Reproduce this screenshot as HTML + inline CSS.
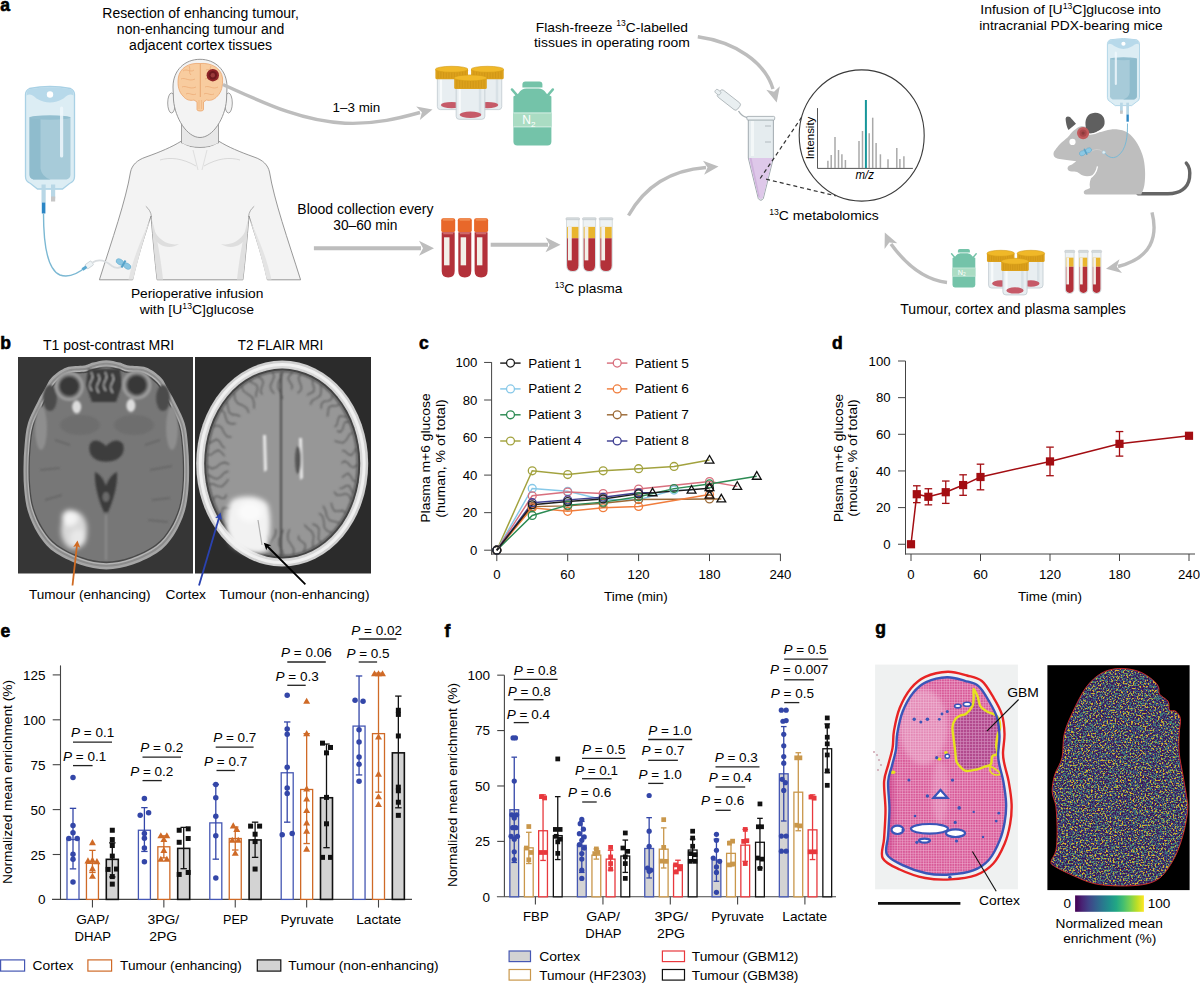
<!DOCTYPE html>
<html><head><meta charset="utf-8"><title>Figure</title>
<style>
html,body{margin:0;padding:0;background:#fff;}
body{width:1200px;height:983px;overflow:hidden;}
svg{display:block;font-family:"Liberation Sans", sans-serif;}
</style></head><body>
<svg width="1200" height="983" viewBox="0 0 1200 983">
<rect width="1200" height="983" fill="#ffffff"/>
<text x="0.30" y="10.80" font-size="17.5" font-weight="bold" fill="#000" stroke="#000" stroke-width="0.6">a</text>
<text x="200.60" y="17.60" font-size="14" text-anchor="middle" textLength="196.50" lengthAdjust="spacingAndGlyphs">Resection of enhancing tumour,</text>
<text x="200.60" y="33.60" font-size="14" text-anchor="middle" textLength="167.50" lengthAdjust="spacingAndGlyphs">non-enhancing tumour and</text>
<text x="200.60" y="49.60" font-size="14" text-anchor="middle" textLength="143.00" lengthAdjust="spacingAndGlyphs">adjacent cortex tissues</text>
<path d="M29.5,88.5 Q50.0,84.5 70.5,88.5 Q74.5,90.5 74.5,94.5 L74.5,176.5 Q74.5,181.5 69.5,183.5 L62.5,189.0 L37.5,189.0 L30.5,183.5 Q25.5,181.5 25.5,176.5 L25.5,94.5 Q25.5,90.5 29.5,88.5 Z" fill="#dcedf4" stroke="#a9d1e5" stroke-width="1.3"/>
<path d="M26.5,94.5 Q26.5,89.5 30.5,89.0 Q50.0,85.3 69.5,89.0 Q73.5,89.5 73.5,94.5 L73.5,95.5 Q69.5,92.5 63.5,98.5 Q50.0,106.5 36.5,98.5 Q30.5,92.5 26.5,95.5 Z" fill="#b7d9ea"/>
<circle cx="50.00" cy="94.50" r="3.20" fill="#ffffff"/>
<path d="M29.5,117.5 Q50.0,114.5 70.5,117.5 L70.5,174.5 Q70.5,178.5 66.5,179.5 L33.5,179.5 Q29.5,178.5 29.5,174.5 Z" fill="#a7cbd9"/>
<path d="M29.5,117.5 Q34.5,116.5 40.5,116.0 L40.5,168.5 Q41.5,176.5 50.5,179.5 L33.5,179.5 Q29.5,178.5 29.5,174.5 Z" fill="#8fbccd"/>
<ellipse cx="50.00" cy="117.50" rx="20.50" ry="2.20" fill="#93bfd0"/>
<rect x="60.00" y="106.50" width="3.20" height="51.00" fill="#eef7fb" rx="1.6" opacity="0.85"/>
<rect x="41.50" y="184.50" width="4.20" height="18.00" fill="#b8d7e6"/>
<rect x="51.00" y="184.50" width="4.20" height="14.00" fill="#b8d7e6"/>
<rect x="51.00" y="196.50" width="4.20" height="5.00" fill="#c6c6c6"/>
<rect x="41.80" y="202.50" width="3.60" height="11.00" fill="#2b86c5"/>
<path d="M43.5,213.5 C43.5,245 48,270 60,275 C70,278.5 80,272 86.5,266.5" fill="none" stroke="#7bb8d3" stroke-width="1.4"/>
<g transform="rotate(-35 89 265)">
<rect x="85.50" y="262.50" width="7.50" height="5.00" fill="#eef3f5" stroke="#b9c3c8" stroke-width="0.6" rx="1"/>
<rect x="81.00" y="263.50" width="5.00" height="3.00" fill="#5aa8d0"/>
</g>
<path d="M181.5,141 C172,147 160,152 146,157 C137,160 132,165 130.5,172 C126,200 112,240 99.4,279.8 L132.6,279.8 C138,255 146,232 151,216 C153,240 155,262 157.1,279.8 L242.9,279.8 C245,262 247,240 249,216 C254,232 262,255 267.4,279.8 L300.6,279.8 C288,240 274,200 269.5,172 C268,165 263,160 254,157 C240,152 228,147 218.5,141 Z" fill="#f3f3f3" stroke="#8c8c8c" stroke-width="0.9"/>
<path d="M151.5,218 C153,240 155,262 157.1,279.5 L163,279.5 C161,262 158,240 151.5,218 Z" fill="#e0e0e0"/>
<path d="M248.5,218 C247,240 245,262 242.9,279.5 L237,279.5 C239,262 242,240 248.5,218 Z" fill="#e0e0e0"/>
<path d="M150.5,219 C146,232 139,255 133.2,279.5 L128.5,279.5 C134,255 143,235 150.5,219 Z" fill="#e4e4e4"/>
<path d="M249.5,219 C254,232 261,255 266.8,279.5 L271.5,279.5 C266,255 257,235 249.5,219 Z" fill="#e4e4e4"/>
<path d="M145.8,206.3 C149,209 151,212 151.5,217" fill="none" stroke="#9a9a9a" stroke-width="0.8"/>
<path d="M254.2,206.3 C251,209 249,212 248.5,217" fill="none" stroke="#9a9a9a" stroke-width="0.8"/>
<path d="M181.5,120 L181.5,143 C190,149 210,149 218.5,143 L218.5,120 Z" fill="#e8e8e8" stroke="#8c8c8c" stroke-width="0.8"/>
<path d="M182,143 C192,150 208,150 218,143 C214,156 186,156 182,143 Z" fill="#f3f3f3"/>
<path d="M160,160 C170,157 182,158 196,166" fill="none" stroke="#d0d0d0" stroke-width="0.8"/>
<path d="M240,160 C230,157 218,158 204,166" fill="none" stroke="#d0d0d0" stroke-width="0.8"/>
<path d="M193,150 L198,170" fill="none" stroke="#d6d6d6" stroke-width="0.7"/>
<path d="M207,150 L202,170" fill="none" stroke="#d6d6d6" stroke-width="0.7"/>
<path d="M153,228 C158,240 168,246 179,244 C170,250 158,247 153,236 Z" fill="#dedede"/>
<path d="M247,228 C242,240 232,246 221,244 C230,250 242,247 247,236 Z" fill="#dedede"/>
<ellipse cx="171.50" cy="103.00" rx="3.80" ry="10.00" fill="#f3f3f3" stroke="#8c8c8c" stroke-width="0.8"/>
<ellipse cx="228.50" cy="103.00" rx="3.80" ry="10.00" fill="#f3f3f3" stroke="#8c8c8c" stroke-width="0.8"/>
<path d="M200,59.3 C215,59.3 227,70 227,87 L226.5,100 C225,118 213,137.5 200,137.5 C187,137.5 175,118 173.5,100 L173,87 C173,70 185,59.3 200,59.3 Z" fill="#f3f3f3" stroke="#8c8c8c" stroke-width="0.9"/>
<path d="M200,63.5 C189,62.5 179.5,68 178.3,78 C177.3,86 179,92 183,96 C186,100 190,101 194,100 L197,102 L197,109.5 C197,111.5 203.5,111.5 203.5,109.5 L203.5,102 L206.5,100 C210,101 214,100 217.5,96 C221.5,92 223,86 222.5,78 C221.5,68 211,62.5 200,63.5 Z" fill="#f8cc9f" stroke="#eba56c" stroke-width="0.8"/>
<path d="M200.3,64 L200.3,97" fill="none" stroke="#e49e64" stroke-width="0.8"/>
<path d="M183,71 C187,68 190,73 194,70" fill="none" stroke="#eba872" stroke-width="0.7"/>
<path d="M181,79 C185,77 189,82 195,79" fill="none" stroke="#eba872" stroke-width="0.7"/>
<path d="M182,87 C186,85 190,90 196,87" fill="none" stroke="#eba872" stroke-width="0.7"/>
<path d="M206,70 C210,68 212,73 217,71" fill="none" stroke="#eba872" stroke-width="0.7"/>
<path d="M205,79 C209,77 213,82 219,79" fill="none" stroke="#eba872" stroke-width="0.7"/>
<path d="M205,87 C209,85 213,90 218,87" fill="none" stroke="#eba872" stroke-width="0.7"/>
<path d="M186,94 C189,92 192,96 196,94" fill="none" stroke="#eba872" stroke-width="0.7"/>
<path d="M204,94 C207,92 210,96 214,94" fill="none" stroke="#eba872" stroke-width="0.7"/>
<path d="M189,66 C191,69 188,72 191,75" fill="none" stroke="#eba872" stroke-width="0.7"/>
<path d="M211,66 C209,69 212,72 209,75" fill="none" stroke="#eba872" stroke-width="0.7"/>
<path d="M199,100 L199,109 M201.5,100 L201.5,109" fill="none" stroke="#eba872" stroke-width="0.5"/>
<circle cx="212.80" cy="75.20" r="6.20" fill="#8e2428"/>
<circle cx="212.80" cy="75.20" r="4.20" fill="#6e1a1e"/>
<circle cx="212.80" cy="75.20" r="2.20" fill="#9a3a3a"/>
<path d="M92.5,262.5 C100,258 106,261 112,266 C116,269 121,268 124,265" fill="none" stroke="#d9dde0" stroke-width="1.8"/>
<g transform="rotate(30 123.5 264)">
<ellipse cx="119.30" cy="264.00" rx="4.00" ry="2.70" fill="#8ac6e2" stroke="#5aa6cc" stroke-width="0.5"/>
<ellipse cx="127.70" cy="264.00" rx="4.00" ry="2.70" fill="#8ac6e2" stroke="#5aa6cc" stroke-width="0.5"/>
<rect x="122.50" y="260.00" width="2.00" height="8.00" fill="#56a2c8"/>
</g>
<text x="197.10" y="298.40" font-size="13.5" text-anchor="middle" textLength="132.40" lengthAdjust="spacingAndGlyphs">Perioperative infusion</text>
<text x="139.70" y="314.10" font-size="13.5" textLength="114.30" lengthAdjust="spacingAndGlyphs"><tspan dy="0.00">with [U</tspan><tspan dy="-5.20" font-size="8.37">13</tspan><tspan dy="5.20">C]glucose</tspan></text>
<path d="M223,84.5 C262,102 300,121 345,123.2 C376,124.5 400,118 420,112.5" fill="none" stroke="#bdbdbd" stroke-width="3.4"/>
<path d="M432.50,109.40 L419.84,120.07 L421.88,112.27 L416.19,106.55 Z" fill="#bdbdbd"/>
<text x="356.40" y="111.80" font-size="13.5" text-anchor="middle" textLength="47.70" lengthAdjust="spacingAndGlyphs">1–3 min</text>
<path d="M437.36,77.30 L437.36,106.60 Q437.36,109.60 440.36,109.60 L463.04,109.60 Q466.04,109.60 466.04,106.60 L466.04,77.30 Z" fill="#e8eef1" stroke="#c5ced4" stroke-width="0.9"/>
<rect x="439.86" y="79.30" width="2.20" height="25.30" fill="#f7fafb"/>
<rect x="460.04" y="79.30" width="2.50" height="25.30" fill="#d8e1e6"/>
<ellipse cx="451.70" cy="105.10" rx="10.84" ry="3.20" fill="#c65a68"/>
<rect x="435.40" y="68.80" width="32.60" height="10.50" fill="#dca11c" rx="1.5"/>
<line x1="438.12" y1="71.30" x2="438.12" y2="78.30" stroke="#c78f12" stroke-width="0.5"/>
<line x1="440.83" y1="71.30" x2="440.83" y2="78.30" stroke="#c78f12" stroke-width="0.5"/>
<line x1="443.55" y1="71.30" x2="443.55" y2="78.30" stroke="#c78f12" stroke-width="0.5"/>
<line x1="446.27" y1="71.30" x2="446.27" y2="78.30" stroke="#c78f12" stroke-width="0.5"/>
<line x1="448.98" y1="71.30" x2="448.98" y2="78.30" stroke="#c78f12" stroke-width="0.5"/>
<line x1="451.70" y1="71.30" x2="451.70" y2="78.30" stroke="#c78f12" stroke-width="0.5"/>
<line x1="454.42" y1="71.30" x2="454.42" y2="78.30" stroke="#c78f12" stroke-width="0.5"/>
<line x1="457.13" y1="71.30" x2="457.13" y2="78.30" stroke="#c78f12" stroke-width="0.5"/>
<line x1="459.85" y1="71.30" x2="459.85" y2="78.30" stroke="#c78f12" stroke-width="0.5"/>
<line x1="462.57" y1="71.30" x2="462.57" y2="78.30" stroke="#c78f12" stroke-width="0.5"/>
<line x1="465.28" y1="71.30" x2="465.28" y2="78.30" stroke="#c78f12" stroke-width="0.5"/>
<ellipse cx="451.70" cy="69.30" rx="16.30" ry="3.00" fill="#f0b828" stroke="#d39a16" stroke-width="0.6"/>
<path d="M473.06,77.30 L473.06,106.60 Q473.06,109.60 476.06,109.60 L498.74,109.60 Q501.74,109.60 501.74,106.60 L501.74,77.30 Z" fill="#e8eef1" stroke="#c5ced4" stroke-width="0.9"/>
<rect x="475.56" y="79.30" width="2.20" height="25.30" fill="#f7fafb"/>
<rect x="495.74" y="79.30" width="2.50" height="25.30" fill="#d8e1e6"/>
<ellipse cx="487.40" cy="105.10" rx="10.84" ry="3.20" fill="#c65a68"/>
<rect x="471.10" y="68.80" width="32.60" height="10.50" fill="#dca11c" rx="1.5"/>
<line x1="473.82" y1="71.30" x2="473.82" y2="78.30" stroke="#c78f12" stroke-width="0.5"/>
<line x1="476.53" y1="71.30" x2="476.53" y2="78.30" stroke="#c78f12" stroke-width="0.5"/>
<line x1="479.25" y1="71.30" x2="479.25" y2="78.30" stroke="#c78f12" stroke-width="0.5"/>
<line x1="481.97" y1="71.30" x2="481.97" y2="78.30" stroke="#c78f12" stroke-width="0.5"/>
<line x1="484.68" y1="71.30" x2="484.68" y2="78.30" stroke="#c78f12" stroke-width="0.5"/>
<line x1="487.40" y1="71.30" x2="487.40" y2="78.30" stroke="#c78f12" stroke-width="0.5"/>
<line x1="490.12" y1="71.30" x2="490.12" y2="78.30" stroke="#c78f12" stroke-width="0.5"/>
<line x1="492.83" y1="71.30" x2="492.83" y2="78.30" stroke="#c78f12" stroke-width="0.5"/>
<line x1="495.55" y1="71.30" x2="495.55" y2="78.30" stroke="#c78f12" stroke-width="0.5"/>
<line x1="498.27" y1="71.30" x2="498.27" y2="78.30" stroke="#c78f12" stroke-width="0.5"/>
<line x1="500.98" y1="71.30" x2="500.98" y2="78.30" stroke="#c78f12" stroke-width="0.5"/>
<ellipse cx="487.40" cy="69.30" rx="16.30" ry="3.00" fill="#f0b828" stroke="#d39a16" stroke-width="0.6"/>
<path d="M456.16,86.90 L456.16,116.30 Q456.16,119.30 459.16,119.30 L481.84,119.30 Q484.84,119.30 484.84,116.30 L484.84,86.90 Z" fill="#e8eef1" stroke="#c5ced4" stroke-width="0.9"/>
<rect x="458.66" y="88.90" width="2.20" height="25.40" fill="#f7fafb"/>
<rect x="478.84" y="88.90" width="2.50" height="25.40" fill="#d8e1e6"/>
<ellipse cx="470.50" cy="114.80" rx="10.84" ry="3.20" fill="#c65a68"/>
<rect x="454.20" y="77.40" width="32.60" height="11.50" fill="#dca11c" rx="1.5"/>
<line x1="456.92" y1="79.90" x2="456.92" y2="87.90" stroke="#c78f12" stroke-width="0.5"/>
<line x1="459.63" y1="79.90" x2="459.63" y2="87.90" stroke="#c78f12" stroke-width="0.5"/>
<line x1="462.35" y1="79.90" x2="462.35" y2="87.90" stroke="#c78f12" stroke-width="0.5"/>
<line x1="465.07" y1="79.90" x2="465.07" y2="87.90" stroke="#c78f12" stroke-width="0.5"/>
<line x1="467.78" y1="79.90" x2="467.78" y2="87.90" stroke="#c78f12" stroke-width="0.5"/>
<line x1="470.50" y1="79.90" x2="470.50" y2="87.90" stroke="#c78f12" stroke-width="0.5"/>
<line x1="473.22" y1="79.90" x2="473.22" y2="87.90" stroke="#c78f12" stroke-width="0.5"/>
<line x1="475.93" y1="79.90" x2="475.93" y2="87.90" stroke="#c78f12" stroke-width="0.5"/>
<line x1="478.65" y1="79.90" x2="478.65" y2="87.90" stroke="#c78f12" stroke-width="0.5"/>
<line x1="481.37" y1="79.90" x2="481.37" y2="87.90" stroke="#c78f12" stroke-width="0.5"/>
<line x1="484.08" y1="79.90" x2="484.08" y2="87.90" stroke="#c78f12" stroke-width="0.5"/>
<ellipse cx="470.50" cy="77.90" rx="16.30" ry="3.00" fill="#f0b828" stroke="#d39a16" stroke-width="0.6"/>
<path d="M522.4,87.4 L522.4,84.4 Q522.4,81.4 525.4,81.4 L539.4,81.4 Q542.4,81.4 542.4,84.4 L542.4,87.4 Z" fill="#74c3a9"/>
<path d="M517.9,96.4 L511.9,89.4" fill="none" stroke="#74c3a9" stroke-width="2.4" stroke-linecap="round"/>
<path d="M546.9,96.4 L552.9,89.4" fill="none" stroke="#74c3a9" stroke-width="2.4" stroke-linecap="round"/>
<path d="M518.4,93.4 Q521.4,88.4 526.4,88.4 L538.4,88.4 Q543.4,88.4 546.4,93.4 L551.4,96.4 L551.4,141.4 Q551.4,145.4 547.4,145.4 L517.4,145.4 Q513.4,145.4 513.4,141.4 L513.4,96.4 Z" fill="#74c3a9"/>
<rect x="513.40" y="112.90" width="38.00" height="14.00" fill="#aadcc3"/>
<line x1="513.40" y1="112.90" x2="551.40" y2="112.90" stroke="#e9f6f0" stroke-width="0.8"/>
<line x1="513.40" y1="126.90" x2="551.40" y2="126.90" stroke="#e9f6f0" stroke-width="0.8"/>
<text x="528.90" y="124.40" font-size="12.00" fill="#ffffff" text-anchor="middle">N<tspan font-size="8.00" dy="2.50">2</tspan></text>
<text x="365.40" y="213.90" font-size="14" text-anchor="middle" textLength="136.20" lengthAdjust="spacingAndGlyphs">Blood collection every</text>
<text x="365.30" y="230.00" font-size="14" text-anchor="middle" textLength="64.10" lengthAdjust="spacingAndGlyphs">30–60 min</text>
<line x1="313.90" y1="248.30" x2="421.00" y2="248.30" stroke="#bdbdbd" stroke-width="4"/>
<path d="M434.00,248.30 L419.00,255.80 L423.00,248.30 L419.00,240.80 Z" fill="#bdbdbd"/>
<rect x="441.20" y="218.30" width="14.00" height="14.00" fill="#e8682a" rx="2"/>
<rect x="442.70" y="218.30" width="11.00" height="2.50" fill="#f08b50" rx="1"/>
<path d="M441.70,232.30 L441.70,271.00 Q441.70,277.50 448.20,277.50 Q454.70,277.50 454.70,271.00 L454.70,232.30 Z" fill="#b3313a"/>
<rect x="444.04" y="237.30" width="5.46" height="28.02" fill="#f2efe8"/>
<rect x="443.26" y="232.30" width="9.88" height="2.00" fill="#cf6a6a"/>
<rect x="457.80" y="218.30" width="14.00" height="14.00" fill="#e8682a" rx="2"/>
<rect x="459.30" y="218.30" width="11.00" height="2.50" fill="#f08b50" rx="1"/>
<path d="M458.30,232.30 L458.30,271.00 Q458.30,277.50 464.80,277.50 Q471.30,277.50 471.30,271.00 L471.30,232.30 Z" fill="#b3313a"/>
<rect x="460.64" y="237.30" width="5.46" height="28.02" fill="#f2efe8"/>
<rect x="459.86" y="232.30" width="9.88" height="2.00" fill="#cf6a6a"/>
<rect x="474.10" y="218.30" width="14.00" height="14.00" fill="#e8682a" rx="2"/>
<rect x="475.60" y="218.30" width="11.00" height="2.50" fill="#f08b50" rx="1"/>
<path d="M474.60,232.30 L474.60,271.00 Q474.60,277.50 481.10,277.50 Q487.60,277.50 487.60,271.00 L487.60,232.30 Z" fill="#b3313a"/>
<rect x="476.94" y="237.30" width="5.46" height="28.02" fill="#f2efe8"/>
<rect x="476.16" y="232.30" width="9.88" height="2.00" fill="#cf6a6a"/>
<line x1="490.70" y1="244.80" x2="548.00" y2="244.80" stroke="#bdbdbd" stroke-width="4"/>
<path d="M560.50,244.80 L545.50,252.30 L549.50,244.80 L545.50,237.30 Z" fill="#bdbdbd"/>
<rect x="565.90" y="217.70" width="13.70" height="2.40" fill="#d6dbde" stroke="#b8bfc3" stroke-width="0.5" rx="1"/>
<path d="M566.50,219.70 L566.50,265.45 Q566.50,271.70 572.75,271.70 Q579.00,271.70 579.00,265.45 L579.00,219.70 Z" fill="#eef2f3" stroke="#c0c7cb" stroke-width="0.6"/>
<rect x="567.10" y="226.88" width="11.30" height="11.34" fill="#e9b52f"/>
<path d="M567.10,238.22 L567.10,265.45 Q567.10,271.10 572.75,271.10 Q578.40,271.10 578.40,265.45 L578.40,238.22 Z" fill="#b3313a"/>
<rect x="568.00" y="226.88" width="3.75" height="33.48" fill="#f3f0ea"/>
<rect x="582.50" y="217.70" width="13.70" height="2.40" fill="#d6dbde" stroke="#b8bfc3" stroke-width="0.5" rx="1"/>
<path d="M583.10,219.70 L583.10,265.45 Q583.10,271.70 589.35,271.70 Q595.60,271.70 595.60,265.45 L595.60,219.70 Z" fill="#eef2f3" stroke="#c0c7cb" stroke-width="0.6"/>
<rect x="583.70" y="226.88" width="11.30" height="11.34" fill="#e9b52f"/>
<path d="M583.70,238.22 L583.70,265.45 Q583.70,271.10 589.35,271.10 Q595.00,271.10 595.00,265.45 L595.00,238.22 Z" fill="#b3313a"/>
<rect x="584.60" y="226.88" width="3.75" height="33.48" fill="#f3f0ea"/>
<rect x="599.20" y="217.70" width="13.70" height="2.40" fill="#d6dbde" stroke="#b8bfc3" stroke-width="0.5" rx="1"/>
<path d="M599.80,219.70 L599.80,265.45 Q599.80,271.70 606.05,271.70 Q612.30,271.70 612.30,265.45 L612.30,219.70 Z" fill="#eef2f3" stroke="#c0c7cb" stroke-width="0.6"/>
<rect x="600.40" y="226.88" width="11.30" height="11.34" fill="#e9b52f"/>
<path d="M600.40,238.22 L600.40,265.45 Q600.40,271.10 606.05,271.10 Q611.70,271.10 611.70,265.45 L611.70,238.22 Z" fill="#b3313a"/>
<rect x="601.30" y="226.88" width="3.75" height="33.48" fill="#f3f0ea"/>
<text x="554.80" y="292.80" font-size="13.5" textLength="67.70" lengthAdjust="spacingAndGlyphs"><tspan dy="-5.20" font-size="8.37">13</tspan><tspan dy="5.20">C plasma</tspan></text>
<path d="M628.5,215.5 C645,186 672,170 706,167.5" fill="none" stroke="#bdbdbd" stroke-width="3.4"/>
<path d="M718.50,166.50 L704.11,174.67 L707.54,167.38 L702.99,160.72 Z" fill="#bdbdbd"/>
<text x="535.80" y="31.60" font-size="13.5" textLength="152.20" lengthAdjust="spacingAndGlyphs"><tspan dy="0.00">Flash-freeze </tspan><tspan dy="-5.20" font-size="8.37">13</tspan><tspan dy="5.20">C-labelled</tspan></text>
<text x="611.90" y="47.30" font-size="13.5" text-anchor="middle" textLength="155.80" lengthAdjust="spacingAndGlyphs">tissues in operating room</text>
<path d="M697.8,36.8 C735,42 765,62 773,89" fill="none" stroke="#bdbdbd" stroke-width="3.4"/>
<path d="M776.70,102.50 L766.27,89.65 L774.03,91.83 L779.85,86.25 Z" fill="#bdbdbd"/>
<g transform="rotate(38 728.8 99.8)">
<rect x="716.50" y="95.50" width="25.00" height="8.80" fill="#e9eff1" stroke="#a8b0b4" stroke-width="0.8" rx="2.5"/>
<rect x="712.50" y="98.50" width="6.00" height="4.00" fill="#e9eff1" stroke="#a8b0b4" stroke-width="0.7" rx="1.5"/>
</g>
<path d="M738.5,111 C741,115 743.5,117 747,117.5" fill="none" stroke="#a8b0b4" stroke-width="1.4"/>
<path d="M748.3,119.7 L773.4,119.7 L773.4,158 L763.3,198.6 Q760.8,202 758.3,198.6 L748.3,158 Z" fill="#e5ecef" stroke="#98a2a7" stroke-width="0.9"/>
<path d="M748.9,158 L772.8,158 L763,197.5 Q760.8,200.5 758.6,197.5 Z" fill="#dec8e9"/>
<path d="M749.5,158 L751.5,158 L759.8,197 L758.6,197.5 Z" fill="#cfb2dc"/>
<rect x="751.00" y="121.00" width="3.00" height="35.00" fill="#f3f7f8"/>
<line x1="765.00" y1="126.00" x2="771.00" y2="126.00" stroke="#b2babf" stroke-width="1"/>
<line x1="765.00" y1="142.00" x2="771.00" y2="142.00" stroke="#b2babf" stroke-width="1"/>
<rect x="746.90" y="116.40" width="27.80" height="3.60" fill="#eef3f5" stroke="#9aa4a9" stroke-width="0.8" rx="1"/>
<line x1="760.20" y1="178.50" x2="805.50" y2="111.50" stroke="#333" stroke-width="1.2" stroke-dasharray="4,3"/>
<line x1="766.10" y1="179.20" x2="835.80" y2="195.80" stroke="#333" stroke-width="1.2" stroke-dasharray="4,3"/>
<ellipse cx="861.70" cy="135.50" rx="62.50" ry="65.60" fill="#ffffff" stroke="#3a3a3a" stroke-width="1.1"/>
<line x1="817.50" y1="108.10" x2="817.50" y2="168.40" stroke="#444" stroke-width="0.9"/>
<line x1="817.50" y1="168.40" x2="912.90" y2="168.40" stroke="#444" stroke-width="0.9"/>
<line x1="827.90" y1="160.70" x2="827.90" y2="168.00" stroke="#a9a9a9" stroke-width="1.5"/>
<line x1="831.20" y1="154.90" x2="831.20" y2="168.00" stroke="#a9a9a9" stroke-width="1.5"/>
<line x1="835.00" y1="137.10" x2="835.00" y2="168.00" stroke="#a9a9a9" stroke-width="1.5"/>
<line x1="838.50" y1="150.00" x2="838.50" y2="168.00" stroke="#a9a9a9" stroke-width="1.5"/>
<line x1="841.90" y1="154.20" x2="841.90" y2="168.00" stroke="#a9a9a9" stroke-width="1.5"/>
<line x1="845.40" y1="160.00" x2="845.40" y2="168.00" stroke="#a9a9a9" stroke-width="1.5"/>
<line x1="859.00" y1="140.90" x2="859.00" y2="168.00" stroke="#a9a9a9" stroke-width="1.5"/>
<line x1="862.50" y1="131.00" x2="862.50" y2="168.00" stroke="#a9a9a9" stroke-width="1.5"/>
<line x1="869.20" y1="133.30" x2="869.20" y2="168.00" stroke="#a9a9a9" stroke-width="1.5"/>
<line x1="872.70" y1="117.70" x2="872.70" y2="168.00" stroke="#a9a9a9" stroke-width="1.5"/>
<line x1="876.10" y1="142.90" x2="876.10" y2="168.00" stroke="#a9a9a9" stroke-width="1.5"/>
<line x1="880.40" y1="154.30" x2="880.40" y2="168.00" stroke="#a9a9a9" stroke-width="1.5"/>
<line x1="888.00" y1="159.20" x2="888.00" y2="168.00" stroke="#a9a9a9" stroke-width="1.5"/>
<line x1="896.80" y1="148.10" x2="896.80" y2="168.00" stroke="#a9a9a9" stroke-width="1.5"/>
<line x1="899.90" y1="158.90" x2="899.90" y2="168.00" stroke="#a9a9a9" stroke-width="1.5"/>
<line x1="903.90" y1="156.20" x2="903.90" y2="168.00" stroke="#a9a9a9" stroke-width="1.5"/>
<line x1="865.90" y1="100.00" x2="865.90" y2="168.00" stroke="#16969a" stroke-width="2"/>
<text x="814.00" y="138.00" font-size="11.5" text-anchor="middle" textLength="42.70" lengthAdjust="spacingAndGlyphs" transform="rotate(-90 814.00 138.00)">Intensity</text>
<text x="864.80" y="178.50" font-size="12.5" text-anchor="middle" font-style="italic" textLength="18.50" lengthAdjust="spacingAndGlyphs">m/z</text>
<text x="769.20" y="219.90" font-size="13.5" textLength="109.60" lengthAdjust="spacingAndGlyphs"><tspan dy="-5.20" font-size="8.37">13</tspan><tspan dy="5.20">C metabolomics</tspan></text>
<text x="980.30" y="14.00" font-size="13.5" textLength="180.60" lengthAdjust="spacingAndGlyphs"><tspan dy="0.00">Infusion of [U</tspan><tspan dy="-5.20" font-size="8.37">13</tspan><tspan dy="5.20">C]glucose into</tspan></text>
<text x="1070.90" y="30.00" font-size="13.5" text-anchor="middle" textLength="183.40" lengthAdjust="spacingAndGlyphs">intracranial PDX-bearing mice</text>
<g transform="translate(2247,0) scale(-1,1)">
<path d="M1110.12,39.81 Q1123.5475,37.19 1136.975,39.81 Q1139.595,41.12 1139.595,43.74 L1139.595,97.45 Q1139.595,100.725 1136.32,102.035 L1131.735,105.6375 L1115.36,105.6375 L1110.775,102.035 Q1107.5,100.725 1107.5,97.45 L1107.5,43.74 Q1107.5,41.12 1110.12,39.81 Z" fill="#dcedf4" stroke="#a9d1e5" stroke-width="0.8515"/>
<path d="M1108.155,43.74 Q1108.155,40.465 1110.775,40.1375 Q1123.5475,37.714 1136.32,40.1375 Q1138.94,40.465 1138.94,43.74 L1138.94,44.395 Q1136.32,42.43 1132.39,46.36 Q1123.5475,51.6 1114.705,46.36 Q1110.775,42.43 1108.155,44.395 Z" fill="#b7d9ea"/>
<circle cx="1123.55" cy="43.74" r="2.10" fill="#ffffff"/>
<path d="M1110.12,58.805 Q1123.5475,56.84 1136.975,58.805 L1136.975,96.14 Q1136.975,98.76 1134.355,99.41499999999999 L1112.74,99.41499999999999 Q1110.12,98.76 1110.12,96.14 Z" fill="#a7cbd9"/>
<path d="M1110.12,58.805 Q1113.395,58.150000000000006 1117.325,57.822500000000005 L1117.325,92.21000000000001 Q1117.98,97.45 1123.875,99.41499999999999 L1112.74,99.41499999999999 Q1110.12,98.76 1110.12,96.14 Z" fill="#8fbccd"/>
<ellipse cx="1123.55" cy="58.80" rx="13.43" ry="1.44" fill="#93bfd0"/>
<rect x="1130.10" y="51.60" width="2.10" height="33.41" fill="#eef7fb" rx="1.048" opacity="0.85"/>
<rect x="1117.98" y="102.69" width="2.75" height="11.79" fill="#b8d7e6"/>
<rect x="1124.20" y="102.69" width="2.75" height="9.17" fill="#b8d7e6"/>
<rect x="1124.20" y="110.55" width="2.75" height="3.28" fill="#c6c6c6"/>
<rect x="1118.18" y="114.48" width="2.36" height="7.21" fill="#2b86c5"/>
</g>
<path d="M1138,193.8 L1168,193.8 C1180,193.8 1188,188 1189.5,178 C1190.5,171 1189,166 1186.3,163.1" fill="none" stroke="#656565" stroke-width="3.4" stroke-linecap="round"/>
<path d="M1065.6,118.8 Q1066,115.5 1070,116.9 L1076,123.8 L1068.5,130 Q1066,126 1065.6,118.8 Z" fill="#5f5f5f"/>
<path d="M1053.80,151.90 C1054.83,150.58 1057.72,146.40 1060.00,144.00 C1062.28,141.60 1065.20,139.73 1067.50,137.50 C1069.80,135.27 1071.50,132.47 1073.80,130.60 C1076.10,128.73 1078.77,126.73 1081.30,126.30 C1083.83,125.87 1086.30,127.02 1089.00,128.00 C1091.70,128.98 1093.78,131.97 1097.50,132.20 C1101.22,132.43 1106.72,129.55 1111.30,129.40 C1115.88,129.25 1121.05,129.53 1125.00,131.30 C1128.95,133.07 1132.08,136.05 1135.00,140.00 C1137.92,143.95 1140.83,150.00 1142.50,155.00 C1144.17,160.00 1144.68,165.00 1145.00,170.00 C1145.32,175.00 1145.02,180.93 1144.40,185.00 C1143.78,189.07 1141.82,192.83 1141.30,194.40 L1086,194.4 Q1083.5,194.4 1083.8,191.5 Q1084.5,189.5 1088,189 L1090,188 C1089,183 1090,179 1093,175 C1088,177 1083,176.5 1079.5,173.5 Q1077,171 1073,171.5 Q1068,172 1067.5,168.5 Q1067.5,165.5 1072,164.5 L1076.3,161.3 Q1066,160 1058,158.7 Q1052,157 1053.8,151.9 Z" fill="#bebebe"/>
<path d="M1097.5,166.3 C1096.5,172 1094,176 1089,178.5" fill="none" stroke="#ffffff" stroke-width="1.3"/>
<path d="M1086,128 C1084,120 1087,113 1095,112.8 C1102,112.6 1105.5,118 1104.5,124 C1103.5,129 1098,131 1093,133.5 C1090,135 1087,133 1086,128 Z" fill="#5f5f5f"/>
<path d="M1086,133.5 C1090,134.5 1095,134 1099.5,131.5" fill="none" stroke="#ffffff" stroke-width="1.2"/>
<circle cx="1072.50" cy="141.90" r="3.10" fill="#ffffff"/>
<g>
<circle cx="1083.10" cy="133.10" r="6.10" fill="#c25a5c"/>
<circle cx="1083.10" cy="133.10" r="3.60" fill="#a9474b"/>
<circle cx="1083.10" cy="133.10" r="1.60" fill="#8d3a3c"/>
</g>
<path d="M1127.5,123.5 C1127.5,135 1127,150 1117,156.5 C1112,159 1108,157 1104,152.5" fill="none" stroke="#7ab9d5" stroke-width="1.0"/>
<path d="M1104,152.5 C1100,149.5 1097,148.5 1093,150.5 C1090,152 1088,152.5 1086,152" fill="none" stroke="#cfcfcf" stroke-width="0.8"/>
<g transform="rotate(-25 1085.5 151.8)">
<ellipse cx="1082.20" cy="151.80" rx="3.20" ry="2.40" fill="#8cc8e4" stroke="#5ea8cc" stroke-width="0.5"/>
<ellipse cx="1088.80" cy="151.80" rx="3.20" ry="2.40" fill="#8cc8e4" stroke="#5ea8cc" stroke-width="0.5"/>
<rect x="1084.80" y="148.50" width="1.60" height="6.60" fill="#5aa4c8"/>
</g>
<circle cx="1103.80" cy="152.30" r="1.60" fill="#e0eef4" stroke="#a0c8dc" stroke-width="0.5"/>
<path d="M1152,212.4 C1158,236 1152,258 1118,266.5" fill="none" stroke="#bdbdbd" stroke-width="3.4"/>
<path d="M1106.00,268.80 L1119.52,259.25 L1116.83,266.85 L1122.00,273.03 Z" fill="#bdbdbd"/>
<path d="M957.9,252.6 L957.9,250.8 Q957.9,249.0 959.7,249.0 L968.1,249.0 Q969.9,249.0 969.9,250.8 L969.9,252.6 Z" fill="#74c3a9"/>
<path d="M955.2,258.0 L951.6,253.8" fill="none" stroke="#74c3a9" stroke-width="1.44" stroke-linecap="round"/>
<path d="M972.6,258.0 L976.2,253.8" fill="none" stroke="#74c3a9" stroke-width="1.44" stroke-linecap="round"/>
<path d="M955.5,256.2 Q957.3,253.2 960.3,253.2 L967.5,253.2 Q970.5,253.2 972.3,256.2 L975.3,258.0 L975.3,285.0 Q975.3,287.4 972.9,287.4 L954.9,287.4 Q952.5,287.4 952.5,285.0 L952.5,258.0 Z" fill="#74c3a9"/>
<rect x="952.50" y="267.90" width="22.80" height="8.40" fill="#aadcc3"/>
<line x1="952.50" y1="267.90" x2="975.30" y2="267.90" stroke="#e9f6f0" stroke-width="0.48"/>
<line x1="952.50" y1="276.30" x2="975.30" y2="276.30" stroke="#e9f6f0" stroke-width="0.48"/>
<text x="961.80" y="274.80" font-size="7.20" fill="#ffffff" text-anchor="middle">N<tspan font-size="4.80" dy="1.50">2</tspan></text>
<path d="M988.60,259.90 L988.60,285.00 Q988.60,288.00 991.60,288.00 L1009.80,288.00 Q1012.80,288.00 1012.80,285.00 L1012.80,259.90 Z" fill="#e8eef1" stroke="#c5ced4" stroke-width="0.9"/>
<rect x="991.10" y="261.90" width="2.20" height="21.10" fill="#f7fafb"/>
<rect x="1006.80" y="261.90" width="2.50" height="21.10" fill="#d8e1e6"/>
<ellipse cx="1000.70" cy="283.50" rx="8.60" ry="3.20" fill="#c65a68"/>
<rect x="986.95" y="252.80" width="27.50" height="9.10" fill="#dca11c" rx="1.5"/>
<line x1="989.24" y1="255.30" x2="989.24" y2="260.90" stroke="#c78f12" stroke-width="0.5"/>
<line x1="991.53" y1="255.30" x2="991.53" y2="260.90" stroke="#c78f12" stroke-width="0.5"/>
<line x1="993.83" y1="255.30" x2="993.83" y2="260.90" stroke="#c78f12" stroke-width="0.5"/>
<line x1="996.12" y1="255.30" x2="996.12" y2="260.90" stroke="#c78f12" stroke-width="0.5"/>
<line x1="998.41" y1="255.30" x2="998.41" y2="260.90" stroke="#c78f12" stroke-width="0.5"/>
<line x1="1000.70" y1="255.30" x2="1000.70" y2="260.90" stroke="#c78f12" stroke-width="0.5"/>
<line x1="1002.99" y1="255.30" x2="1002.99" y2="260.90" stroke="#c78f12" stroke-width="0.5"/>
<line x1="1005.28" y1="255.30" x2="1005.28" y2="260.90" stroke="#c78f12" stroke-width="0.5"/>
<line x1="1007.58" y1="255.30" x2="1007.58" y2="260.90" stroke="#c78f12" stroke-width="0.5"/>
<line x1="1009.87" y1="255.30" x2="1009.87" y2="260.90" stroke="#c78f12" stroke-width="0.5"/>
<line x1="1012.16" y1="255.30" x2="1012.16" y2="260.90" stroke="#c78f12" stroke-width="0.5"/>
<ellipse cx="1000.70" cy="253.30" rx="13.75" ry="3.00" fill="#f0b828" stroke="#d39a16" stroke-width="0.6"/>
<path d="M1018.80,259.90 L1018.80,285.00 Q1018.80,288.00 1021.80,288.00 L1040.00,288.00 Q1043.00,288.00 1043.00,285.00 L1043.00,259.90 Z" fill="#e8eef1" stroke="#c5ced4" stroke-width="0.9"/>
<rect x="1021.30" y="261.90" width="2.20" height="21.10" fill="#f7fafb"/>
<rect x="1037.00" y="261.90" width="2.50" height="21.10" fill="#d8e1e6"/>
<ellipse cx="1030.90" cy="283.50" rx="8.60" ry="3.20" fill="#c65a68"/>
<rect x="1017.15" y="252.80" width="27.50" height="9.10" fill="#dca11c" rx="1.5"/>
<line x1="1019.44" y1="255.30" x2="1019.44" y2="260.90" stroke="#c78f12" stroke-width="0.5"/>
<line x1="1021.73" y1="255.30" x2="1021.73" y2="260.90" stroke="#c78f12" stroke-width="0.5"/>
<line x1="1024.03" y1="255.30" x2="1024.03" y2="260.90" stroke="#c78f12" stroke-width="0.5"/>
<line x1="1026.32" y1="255.30" x2="1026.32" y2="260.90" stroke="#c78f12" stroke-width="0.5"/>
<line x1="1028.61" y1="255.30" x2="1028.61" y2="260.90" stroke="#c78f12" stroke-width="0.5"/>
<line x1="1030.90" y1="255.30" x2="1030.90" y2="260.90" stroke="#c78f12" stroke-width="0.5"/>
<line x1="1033.19" y1="255.30" x2="1033.19" y2="260.90" stroke="#c78f12" stroke-width="0.5"/>
<line x1="1035.48" y1="255.30" x2="1035.48" y2="260.90" stroke="#c78f12" stroke-width="0.5"/>
<line x1="1037.78" y1="255.30" x2="1037.78" y2="260.90" stroke="#c78f12" stroke-width="0.5"/>
<line x1="1040.07" y1="255.30" x2="1040.07" y2="260.90" stroke="#c78f12" stroke-width="0.5"/>
<line x1="1042.36" y1="255.30" x2="1042.36" y2="260.90" stroke="#c78f12" stroke-width="0.5"/>
<ellipse cx="1030.90" cy="253.30" rx="13.75" ry="3.00" fill="#f0b828" stroke="#d39a16" stroke-width="0.6"/>
<path d="M1002.90,269.00 L1002.90,291.90 Q1002.90,294.90 1005.90,294.90 L1024.10,294.90 Q1027.10,294.90 1027.10,291.90 L1027.10,269.00 Z" fill="#e8eef1" stroke="#c5ced4" stroke-width="0.9"/>
<rect x="1005.40" y="271.00" width="2.20" height="18.90" fill="#f7fafb"/>
<rect x="1021.10" y="271.00" width="2.50" height="18.90" fill="#d8e1e6"/>
<ellipse cx="1015.00" cy="290.40" rx="8.60" ry="3.20" fill="#c65a68"/>
<rect x="1001.25" y="260.80" width="27.50" height="10.20" fill="#dca11c" rx="1.5"/>
<line x1="1003.54" y1="263.30" x2="1003.54" y2="270.00" stroke="#c78f12" stroke-width="0.5"/>
<line x1="1005.83" y1="263.30" x2="1005.83" y2="270.00" stroke="#c78f12" stroke-width="0.5"/>
<line x1="1008.12" y1="263.30" x2="1008.12" y2="270.00" stroke="#c78f12" stroke-width="0.5"/>
<line x1="1010.42" y1="263.30" x2="1010.42" y2="270.00" stroke="#c78f12" stroke-width="0.5"/>
<line x1="1012.71" y1="263.30" x2="1012.71" y2="270.00" stroke="#c78f12" stroke-width="0.5"/>
<line x1="1015.00" y1="263.30" x2="1015.00" y2="270.00" stroke="#c78f12" stroke-width="0.5"/>
<line x1="1017.29" y1="263.30" x2="1017.29" y2="270.00" stroke="#c78f12" stroke-width="0.5"/>
<line x1="1019.58" y1="263.30" x2="1019.58" y2="270.00" stroke="#c78f12" stroke-width="0.5"/>
<line x1="1021.88" y1="263.30" x2="1021.88" y2="270.00" stroke="#c78f12" stroke-width="0.5"/>
<line x1="1024.17" y1="263.30" x2="1024.17" y2="270.00" stroke="#c78f12" stroke-width="0.5"/>
<line x1="1026.46" y1="263.30" x2="1026.46" y2="270.00" stroke="#c78f12" stroke-width="0.5"/>
<ellipse cx="1015.00" cy="261.30" rx="13.75" ry="3.00" fill="#f0b828" stroke="#d39a16" stroke-width="0.6"/>
<rect x="1064.70" y="250.30" width="10.00" height="2.40" fill="#d6dbde" stroke="#b8bfc3" stroke-width="0.5" rx="1"/>
<path d="M1065.30,252.30 L1065.30,289.10 Q1065.30,293.50 1069.70,293.50 Q1074.10,293.50 1074.10,289.10 L1074.10,252.30 Z" fill="#eef2f3" stroke="#c0c7cb" stroke-width="0.6"/>
<rect x="1065.90" y="257.64" width="7.60" height="9.07" fill="#e9b52f"/>
<path d="M1065.90,266.72 L1065.90,289.10 Q1065.90,292.90 1069.70,292.90 Q1073.50,292.90 1073.50,289.10 L1073.50,266.72 Z" fill="#b3313a"/>
<rect x="1066.36" y="257.64" width="2.64" height="26.78" fill="#f3f0ea"/>
<rect x="1078.40" y="250.30" width="10.00" height="2.40" fill="#d6dbde" stroke="#b8bfc3" stroke-width="0.5" rx="1"/>
<path d="M1079.00,252.30 L1079.00,289.10 Q1079.00,293.50 1083.40,293.50 Q1087.80,293.50 1087.80,289.10 L1087.80,252.30 Z" fill="#eef2f3" stroke="#c0c7cb" stroke-width="0.6"/>
<rect x="1079.60" y="257.64" width="7.60" height="9.07" fill="#e9b52f"/>
<path d="M1079.60,266.72 L1079.60,289.10 Q1079.60,292.90 1083.40,292.90 Q1087.20,292.90 1087.20,289.10 L1087.20,266.72 Z" fill="#b3313a"/>
<rect x="1080.06" y="257.64" width="2.64" height="26.78" fill="#f3f0ea"/>
<rect x="1091.60" y="250.30" width="10.00" height="2.40" fill="#d6dbde" stroke="#b8bfc3" stroke-width="0.5" rx="1"/>
<path d="M1092.20,252.30 L1092.20,289.10 Q1092.20,293.50 1096.60,293.50 Q1101.00,293.50 1101.00,289.10 L1101.00,252.30 Z" fill="#eef2f3" stroke="#c0c7cb" stroke-width="0.6"/>
<rect x="1092.80" y="257.64" width="7.60" height="9.07" fill="#e9b52f"/>
<path d="M1092.80,266.72 L1092.80,289.10 Q1092.80,292.90 1096.60,292.90 Q1100.40,292.90 1100.40,289.10 L1100.40,266.72 Z" fill="#b3313a"/>
<rect x="1093.26" y="257.64" width="2.64" height="26.78" fill="#f3f0ea"/>
<path d="M947,282.5 C926,280 907,266 891,244" fill="none" stroke="#bdbdbd" stroke-width="3.4"/>
<path d="M884.80,232.50 L897.34,243.31 L889.31,242.53 L884.57,249.05 Z" fill="#bdbdbd"/>
<text x="1013.05" y="314.20" font-size="14" text-anchor="middle" textLength="225.50" lengthAdjust="spacingAndGlyphs">Tumour, cortex and plasma samples</text>
<text x="0.30" y="349.30" font-size="17.5" font-weight="bold" fill="#000" stroke="#000" stroke-width="0.6">b</text>
<text x="108.60" y="349.70" font-size="14" text-anchor="middle" textLength="131.20" lengthAdjust="spacingAndGlyphs">T1 post-contrast MRI</text>
<text x="280.50" y="349.80" font-size="14" text-anchor="middle" textLength="85.50" lengthAdjust="spacingAndGlyphs">T2 FLAIR MRI</text>
<defs>
<filter id="bl1" x="-20%" y="-20%" width="140%" height="140%"><feGaussianBlur stdDeviation="1.2"/></filter>
<filter id="bl2" x="-30%" y="-30%" width="160%" height="160%"><feGaussianBlur stdDeviation="2.5"/></filter>
<filter id="bl05" x="-20%" y="-20%" width="140%" height="140%"><feGaussianBlur stdDeviation="0.6"/></filter>
<clipPath id="clipT1"><rect x="18" y="357" width="175" height="216.5"/></clipPath>
<clipPath id="clipT2"><rect x="195" y="357" width="176" height="216.5"/></clipPath>
</defs>
<rect x="18.00" y="357.00" width="175.00" height="216.50" fill="#363636"/>
<g clip-path="url(#clipT1)">
<g filter="url(#bl05)">
<path d="M106.30,360.20 C101.87,360.20 96.72,361.70 93.00,362.60 C89.28,363.50 88.43,364.78 84.00,365.60 C79.57,366.42 71.78,365.52 66.40,367.50 C61.02,369.48 55.35,373.83 51.70,377.50 C48.05,381.17 46.80,385.55 44.50,389.50 C42.20,393.45 40.67,395.57 37.90,401.20 C35.13,406.83 30.12,415.95 27.90,423.30 C25.68,430.65 25.33,437.95 24.60,445.30 C23.87,452.65 23.57,460.03 23.50,467.40 C23.43,474.77 23.47,482.13 24.20,489.50 C24.93,496.87 25.62,504.23 27.90,511.60 C30.18,518.97 33.67,527.08 37.90,533.70 C42.13,540.32 46.32,546.15 53.30,551.30 C60.28,556.45 70.97,561.57 79.80,564.60 C88.63,567.63 97.47,569.50 106.30,569.50 C115.13,569.50 123.97,567.63 132.80,564.60 C141.63,561.57 152.32,556.45 159.30,551.30 C166.28,546.15 170.47,540.32 174.70,533.70 C178.93,527.08 182.42,518.97 184.70,511.60 C186.98,504.23 187.67,496.87 188.40,489.50 C189.13,482.13 189.17,474.77 189.10,467.40 C189.03,460.03 188.73,452.65 188.00,445.30 C187.27,437.95 186.92,430.65 184.70,423.30 C182.48,415.95 177.47,406.83 174.70,401.20 C171.93,395.57 170.40,393.45 168.10,389.50 C165.80,385.55 164.55,381.17 160.90,377.50 C157.25,373.83 151.58,369.48 146.20,367.50 C140.82,365.52 133.03,366.42 128.60,365.60 C124.17,364.78 123.32,363.50 119.60,362.60 C115.88,361.70 110.73,360.20 106.30,360.20 Z" fill="#a6a6a6"/>
<path d="M106.30,362.79 C101.98,362.79 96.96,364.26 93.33,365.13 C89.71,366.01 88.88,367.26 84.56,368.06 C80.24,368.86 72.65,367.98 67.40,369.91 C62.15,371.85 56.62,376.09 53.07,379.66 C49.51,383.24 48.29,387.51 46.05,391.36 C43.80,395.21 42.31,397.28 39.61,402.77 C36.91,408.26 32.02,417.15 29.86,424.32 C27.70,431.48 27.36,438.60 26.64,445.77 C25.93,452.93 25.64,460.13 25.57,467.31 C25.51,474.50 25.54,481.68 26.25,488.86 C26.97,496.05 27.63,503.23 29.86,510.41 C32.09,517.59 35.48,525.51 39.61,531.96 C43.74,538.41 47.82,544.10 54.62,549.12 C61.43,554.14 71.85,559.13 80.46,562.09 C89.08,565.04 97.69,566.86 106.30,566.86 C114.91,566.86 123.53,565.04 132.14,562.09 C140.75,559.13 151.17,554.14 157.98,549.12 C164.78,544.10 168.86,538.41 172.99,531.96 C177.12,525.51 180.51,517.59 182.74,510.41 C184.97,503.23 185.63,496.05 186.35,488.86 C187.06,481.68 187.09,474.50 187.03,467.31 C186.96,460.13 186.67,452.93 185.96,445.77 C185.24,438.60 184.90,431.48 182.74,424.32 C180.58,417.15 175.69,408.26 172.99,402.77 C170.29,397.28 168.80,395.21 166.56,391.36 C164.31,387.51 163.09,383.24 159.53,379.66 C155.98,376.09 150.45,371.85 145.20,369.91 C139.95,367.98 132.36,368.86 128.04,368.06 C123.72,367.26 122.89,366.01 119.27,365.13 C115.64,364.26 110.62,362.79 106.30,362.79 Z" fill="#8c8c8c"/>
<path d="M106.30,364.87 C102.07,364.87 97.15,366.30 93.60,367.16 C90.05,368.02 89.24,369.25 85.00,370.03 C80.77,370.81 73.34,369.95 68.20,371.84 C63.05,373.74 57.64,377.89 54.16,381.39 C50.67,384.89 49.48,389.08 47.28,392.85 C45.08,396.62 43.62,398.65 40.98,404.03 C38.34,409.41 33.54,418.11 31.43,425.13 C29.31,432.15 28.98,439.12 28.28,446.14 C27.58,453.16 27.29,460.21 27.23,467.25 C27.16,474.28 27.19,481.32 27.89,488.35 C28.59,495.39 29.25,502.42 31.43,509.46 C33.61,516.49 36.94,524.24 40.98,530.56 C45.02,536.88 49.02,542.45 55.69,547.37 C62.35,552.29 72.56,557.18 80.99,560.07 C89.43,562.97 97.86,564.75 106.30,564.75 C114.74,564.75 123.17,562.97 131.61,560.07 C140.04,557.18 150.25,552.29 156.92,547.37 C163.58,542.45 167.58,536.88 171.62,530.56 C175.66,524.24 178.99,516.49 181.17,509.46 C183.35,502.42 184.01,495.39 184.71,488.35 C185.41,481.32 185.44,474.28 185.37,467.25 C185.31,460.21 185.02,453.16 184.32,446.14 C183.62,439.12 183.29,432.15 181.17,425.13 C179.06,418.11 174.26,409.41 171.62,404.03 C168.98,398.65 167.52,396.62 165.32,392.85 C163.12,389.08 161.93,384.89 158.44,381.39 C154.96,377.89 149.55,373.74 144.40,371.84 C139.26,369.95 131.83,370.81 127.60,370.03 C123.36,369.25 122.55,368.02 119.00,367.16 C115.45,366.30 110.53,364.87 106.30,364.87 Z" fill="#b4b4b4"/>
<path d="M106.30,366.43 C102.13,366.43 97.29,367.84 93.80,368.68 C90.30,369.53 89.51,370.74 85.34,371.50 C81.17,372.27 73.85,371.43 68.79,373.29 C63.73,375.15 58.41,379.24 54.98,382.69 C51.55,386.14 50.37,390.26 48.21,393.97 C46.05,397.68 44.60,399.67 42.00,404.97 C39.40,410.26 34.69,418.83 32.60,425.74 C30.52,432.65 30.19,439.51 29.50,446.42 C28.81,453.33 28.53,460.27 28.47,467.20 C28.41,474.12 28.44,481.05 29.13,487.97 C29.82,494.89 30.46,501.82 32.60,508.74 C34.75,515.67 38.02,523.30 42.00,529.52 C45.98,535.74 49.92,541.22 56.48,546.06 C63.04,550.90 73.09,555.71 81.39,558.56 C89.69,561.42 98.00,563.17 106.30,563.17 C114.60,563.17 122.91,561.42 131.21,558.56 C139.51,555.71 149.56,550.90 156.12,546.06 C162.68,541.22 166.62,535.74 170.60,529.52 C174.58,523.30 177.85,515.67 180.00,508.74 C182.14,501.82 182.78,494.89 183.47,487.97 C184.16,481.05 184.19,474.12 184.13,467.20 C184.07,460.27 183.79,453.33 183.10,446.42 C182.41,439.51 182.08,432.65 180.00,425.74 C177.91,418.83 173.20,410.26 170.60,404.97 C168.00,399.67 166.55,397.68 164.39,393.97 C162.23,390.26 161.05,386.14 157.62,382.69 C154.19,379.24 148.87,375.15 143.81,373.29 C138.75,371.43 131.43,372.27 127.26,371.50 C123.09,370.74 122.30,369.53 118.80,368.68 C115.31,367.84 110.47,366.43 106.30,366.43 Z" fill="#4a4a4a"/>
<path d="M106.30,367.99 C102.20,367.99 97.44,369.37 94.00,370.21 C90.56,371.04 89.77,372.22 85.67,372.98 C81.57,373.74 74.37,372.90 69.39,374.74 C64.41,376.57 59.17,380.60 55.80,383.99 C52.42,387.38 51.26,391.43 49.13,395.09 C47.01,398.74 45.59,400.70 43.03,405.91 C40.47,411.12 35.83,419.55 33.78,426.35 C31.73,433.15 31.41,439.90 30.73,446.70 C30.05,453.50 29.77,460.33 29.71,467.14 C29.65,473.96 29.68,480.77 30.36,487.59 C31.04,494.40 31.67,501.22 33.78,508.03 C35.89,514.84 39.11,522.35 43.03,528.47 C46.95,534.59 50.82,539.99 57.27,544.75 C63.73,549.52 73.62,554.25 81.79,557.06 C89.96,559.86 98.13,561.59 106.30,561.59 C114.47,561.59 122.64,559.86 130.81,557.06 C138.98,554.25 148.87,549.52 155.33,544.75 C161.78,539.99 165.65,534.59 169.57,528.47 C173.49,522.35 176.71,514.84 178.82,508.03 C180.93,501.22 181.56,494.40 182.24,487.59 C182.92,480.77 182.95,473.96 182.89,467.14 C182.83,460.33 182.55,453.50 181.87,446.70 C181.19,439.90 180.87,433.15 178.82,426.35 C176.77,419.55 172.13,411.12 169.57,405.91 C167.01,400.70 165.59,398.74 163.47,395.09 C161.34,391.43 160.18,387.38 156.80,383.99 C153.43,380.60 148.19,376.57 143.21,374.74 C138.23,372.90 131.03,373.74 126.93,372.98 C122.83,372.22 122.04,371.04 118.60,370.21 C115.16,369.37 110.40,367.99 106.30,367.99 Z" fill="#777777"/>
</g>
<g filter="url(#bl1)">
<ellipse cx="50.00" cy="398.00" rx="7.00" ry="13.00" fill="#4c4c4c"/>
<ellipse cx="163.00" cy="398.00" rx="7.00" ry="13.00" fill="#4c4c4c"/>
<ellipse cx="41.00" cy="428.00" rx="6.00" ry="22.00" fill="#8e8e8e"/>
<ellipse cx="172.00" cy="428.00" rx="6.00" ry="22.00" fill="#8e8e8e"/>
<circle cx="69.30" cy="386.30" r="14.70" fill="#9c9c9c"/>
<circle cx="69.30" cy="386.30" r="11.50" fill="#6a6a6a"/>
<circle cx="69.30" cy="386.30" r="9.50" fill="#383838"/>
<circle cx="136.80" cy="384.90" r="14.70" fill="#9c9c9c"/>
<circle cx="136.80" cy="384.90" r="11.50" fill="#6a6a6a"/>
<circle cx="136.80" cy="384.90" r="9.50" fill="#383838"/>
<ellipse cx="76.70" cy="407.00" rx="4.50" ry="6.50" fill="#dcdcdc"/>
<ellipse cx="130.90" cy="405.50" rx="4.50" ry="6.50" fill="#dcdcdc"/>
<path d="M88,369 L120,369 L122,385 L116,402 L92,402 L86,385 Z" fill="#3a3a3a"/>
<path d="M91,372 q3,5 0,9 q-3,5 1,10" fill="none" stroke="#cfcfcf" stroke-width="1.1"/>
<path d="M98,374 q3,5 0,9 q-3,5 1,10" fill="none" stroke="#cfcfcf" stroke-width="1.1"/>
<path d="M105,372 q3,5 0,9 q-3,5 1,10" fill="none" stroke="#cfcfcf" stroke-width="1.1"/>
<path d="M112,374 q3,5 0,9 q-3,5 1,10" fill="none" stroke="#cfcfcf" stroke-width="1.1"/>
<path d="M100,366 L112,366" fill="none" stroke="#9a9a9a" stroke-width="2"/>
<ellipse cx="80.00" cy="425.00" rx="20.00" ry="10.00" fill="#6e6e6e"/>
<ellipse cx="134.00" cy="425.00" rx="20.00" ry="10.00" fill="#6e6e6e"/>
<path d="M90,444 C94,438 100,440 106,446 C112,440 118,438 123,444 C126,452 120,460 112,461 C108,462 104,462 100,461 C93,460 87,452 90,444 Z" fill="#3e3e3e"/>
<path d="M95,472 C100,474 104,480 106,486 C108,480 112,474 117,472 C118,486 112,505 106,516 C100,505 94,486 95,472 Z" fill="#3a3a3a"/>
<ellipse cx="106.00" cy="497.00" rx="3.50" ry="5.00" fill="#6a6a6a"/>
<line x1="106.00" y1="512.00" x2="106.00" y2="560.00" stroke="#9a9a9a" stroke-width="1.2"/>
<line x1="40.00" y1="470.00" x2="60.00" y2="468.00" stroke="#5a5a5a" stroke-width="1.2"/>
<line x1="45.00" y1="500.00" x2="62.00" y2="495.00" stroke="#5a5a5a" stroke-width="1.2"/>
<line x1="150.00" y1="470.00" x2="172.00" y2="466.00" stroke="#5a5a5a" stroke-width="1.2"/>
<line x1="152.00" y1="500.00" x2="170.00" y2="498.00" stroke="#5a5a5a" stroke-width="1.2"/>
<line x1="148.00" y1="520.00" x2="168.00" y2="522.00" stroke="#5a5a5a" stroke-width="1.2"/>
<line x1="55.00" y1="440.00" x2="70.00" y2="445.00" stroke="#5a5a5a" stroke-width="1.2"/>
<line x1="145.00" y1="445.00" x2="160.00" y2="440.00" stroke="#5a5a5a" stroke-width="1.2"/>
</g>
<g filter="url(#bl2)">
<ellipse cx="74.00" cy="530.00" rx="13.00" ry="19.00" fill="#d8d8d8"/>
<ellipse cx="70.00" cy="518.00" rx="8.00" ry="8.00" fill="#f4f4f4"/>
<ellipse cx="78.00" cy="538.00" rx="8.00" ry="9.00" fill="#e8e8e8"/>
</g>
</g>
<rect x="195.00" y="357.00" width="176.00" height="216.50" fill="#2b2b2b"/>
<g clip-path="url(#clipT2)">
<g filter="url(#bl05)">
<ellipse cx="282.20" cy="463.60" rx="86.00" ry="103.00" fill="#cfcfcf"/>
<ellipse cx="282.20" cy="463.60" rx="83.50" ry="100.50" fill="#f0f0f0"/>
<ellipse cx="282.20" cy="463.60" rx="80.50" ry="97.50" fill="#d8d8d8"/>
<ellipse cx="282.20" cy="463.60" rx="78.00" ry="95.00" fill="#3c3c3c"/>
<ellipse cx="282.20" cy="463.60" rx="76.00" ry="93.00" fill="#979797"/>
</g>
<g filter="url(#bl1)">
<path d="M357.2,464.3 L354.0,467.5 L350.8,466.5 L347.7,462.8 L344.5,461.1 L341.4,463.3" fill="none" stroke="#5a5a5a" stroke-width="1.3"/>
<path d="M355.8,481.4 L353.1,480.6 L350.8,476.3 L348.3,473.4 L345.3,474.7 L342.1,477.5" fill="none" stroke="#5a5a5a" stroke-width="1.3"/>
<path d="M353.0,494.0 L351.2,489.6 L349.2,485.6 L346.2,485.7 L342.6,488.1 L339.5,488.4" fill="none" stroke="#5a5a5a" stroke-width="1.3"/>
<path d="M351.1,499.9 L348.8,494.9 L345.3,493.6 L340.8,495.1 L336.8,495.1 L334.0,491.7" fill="none" stroke="#5a5a5a" stroke-width="1.3"/>
<path d="M345.4,513.1 L342.8,510.5 L338.5,511.1 L334.5,511.0 L332.4,507.6 L331.1,502.6" fill="none" stroke="#5a5a5a" stroke-width="1.3"/>
<path d="M339.6,522.8 L334.7,521.7 L329.7,520.5 L326.9,516.5 L325.5,510.5 L323.2,505.8" fill="none" stroke="#5a5a5a" stroke-width="1.3"/>
<path d="M332.0,532.3 L327.0,531.0 L324.3,527.3 L323.8,521.4 L322.5,516.1 L319.0,513.3" fill="none" stroke="#5a5a5a" stroke-width="1.3"/>
<path d="M320.9,542.4 L318.4,539.3 L318.8,534.0 L319.0,528.8 L316.5,525.6 L312.4,523.8" fill="none" stroke="#5a5a5a" stroke-width="1.3"/>
<path d="M312.6,547.7 L313.0,542.0 L313.7,535.9 L311.7,531.4 L307.6,528.3 L304.3,524.6" fill="none" stroke="#5a5a5a" stroke-width="1.3"/>
<path d="M303.1,552.0 L305.4,547.4 L305.0,543.9 L301.7,541.5 L298.6,539.0 L298.6,535.4" fill="none" stroke="#5a5a5a" stroke-width="1.3"/>
<path d="M293.3,554.6 L293.9,549.2 L291.1,544.5 L288.0,539.8 L287.7,534.6 L289.6,529.1" fill="none" stroke="#5a5a5a" stroke-width="1.3"/>
<path d="M283.9,555.6 L282.0,550.4 L279.0,545.1 L278.9,539.8 L281.4,534.7 L283.3,529.5" fill="none" stroke="#5a5a5a" stroke-width="1.3"/>
<path d="M272.6,554.8 L270.0,549.1 L269.7,543.7 L272.7,539.0 L275.6,534.2 L275.8,528.9" fill="none" stroke="#5a5a5a" stroke-width="1.3"/>
<path d="M262.0,552.2 L261.2,548.2 L263.9,545.4 L267.5,542.8 L268.3,539.3 L266.6,535.1" fill="none" stroke="#5a5a5a" stroke-width="1.3"/>
<path d="M249.5,546.4 L252.6,542.6 L257.1,539.5 L259.4,535.2 L258.9,529.5 L258.6,523.8" fill="none" stroke="#5a5a5a" stroke-width="1.3"/>
<path d="M238.2,538.1 L242.6,537.5 L245.4,535.4 L245.3,531.1 L244.8,526.2 L246.5,523.3" fill="none" stroke="#5a5a5a" stroke-width="1.3"/>
<path d="M234.5,534.6 L237.8,533.5 L238.3,529.6 L237.8,524.6 L239.2,521.6 L242.8,520.9" fill="none" stroke="#5a5a5a" stroke-width="1.3"/>
<path d="M227.3,526.3 L229.0,522.7 L229.4,517.1 L231.2,513.4 L235.0,512.7 L239.1,512.4" fill="none" stroke="#5a5a5a" stroke-width="1.3"/>
<path d="M221.1,517.0 L221.6,511.8 L223.0,508.0 L226.3,507.9 L230.2,508.9 L232.8,507.4" fill="none" stroke="#5a5a5a" stroke-width="1.3"/>
<path d="M213.4,500.4 L215.1,496.3 L218.1,496.4 L221.8,498.4 L224.8,498.1 L226.4,494.4" fill="none" stroke="#5a5a5a" stroke-width="1.3"/>
<path d="M209.1,484.2 L213.1,483.8 L217.7,486.2 L221.9,486.6 L225.3,483.3 L228.5,479.1" fill="none" stroke="#5a5a5a" stroke-width="1.3"/>
<path d="M207.7,474.4 L212.3,477.4 L216.8,479.1 L220.7,476.7 L224.5,472.6 L228.5,471.1" fill="none" stroke="#5a5a5a" stroke-width="1.3"/>
<path d="M207.2,465.6 L211.7,468.7 L216.0,467.5 L220.3,463.8 L224.7,462.3 L229.1,464.3" fill="none" stroke="#5a5a5a" stroke-width="1.3"/>
<path d="M207.6,454.7 L211.0,454.9 L214.7,451.8 L218.4,450.1 L221.5,452.4 L224.6,456.2" fill="none" stroke="#5a5a5a" stroke-width="1.3"/>
<path d="M209.0,443.6 L212.9,441.1 L216.7,439.3 L219.6,441.5 L222.0,445.9 L225.0,448.2" fill="none" stroke="#5a5a5a" stroke-width="1.3"/>
<path d="M213.5,426.6 L218.3,425.4 L221.7,427.8 L224.2,433.0 L227.2,436.7 L231.3,437.0" fill="none" stroke="#5a5a5a" stroke-width="1.3"/>
<path d="M221.2,410.1 L224.3,412.3 L225.7,417.7 L227.6,422.4 L231.2,423.8 L235.7,423.5" fill="none" stroke="#5a5a5a" stroke-width="1.3"/>
<path d="M226.9,401.5 L227.9,406.8 L229.0,412.2 L232.1,414.5 L236.7,414.8 L240.3,416.4" fill="none" stroke="#5a5a5a" stroke-width="1.3"/>
<path d="M234.4,392.7 L234.9,399.3 L237.8,403.4 L242.6,405.3 L246.9,408.1 L248.8,413.1" fill="none" stroke="#5a5a5a" stroke-width="1.3"/>
<path d="M241.8,386.1 L243.5,391.2 L248.0,394.2 L252.4,397.5 L254.0,402.6 L254.2,408.8" fill="none" stroke="#5a5a5a" stroke-width="1.3"/>
<path d="M249.4,380.9 L252.7,383.0 L256.6,385.0 L257.7,388.4 L256.3,393.0 L255.9,397.3" fill="none" stroke="#5a5a5a" stroke-width="1.3"/>
<path d="M257.8,376.6 L261.9,379.0 L263.3,382.4 L261.8,386.9 L260.6,391.4 L262.3,394.7" fill="none" stroke="#5a5a5a" stroke-width="1.3"/>
<path d="M272.6,372.4 L274.2,376.4 L272.4,381.0 L270.3,385.7 L271.1,389.8 L274.2,393.5" fill="none" stroke="#5a5a5a" stroke-width="1.3"/>
<path d="M283.0,371.6 L281.1,377.0 L278.3,382.6 L278.2,388.0 L280.7,393.3 L282.7,398.7" fill="none" stroke="#5a5a5a" stroke-width="1.3"/>
<path d="M293.0,372.6 L289.4,375.5 L288.1,378.7 L290.2,382.4 L292.3,386.2 L291.5,389.5" fill="none" stroke="#5a5a5a" stroke-width="1.3"/>
<path d="M300.8,374.5 L298.4,377.7 L299.6,382.0 L301.5,386.7 L300.8,390.5 L297.5,393.3" fill="none" stroke="#5a5a5a" stroke-width="1.3"/>
<path d="M312.4,379.4 L312.6,383.3 L314.2,388.1 L313.7,391.6 L310.3,393.3 L306.9,395.2" fill="none" stroke="#5a5a5a" stroke-width="1.3"/>
<path d="M320.5,384.5 L321.2,390.7 L320.3,395.6 L316.5,398.2 L312.3,400.5 L310.3,404.6" fill="none" stroke="#5a5a5a" stroke-width="1.3"/>
<path d="M332.1,394.9 L331.5,399.4 L328.2,400.9 L323.9,401.3 L321.5,403.8 L321.2,408.6" fill="none" stroke="#5a5a5a" stroke-width="1.3"/>
<path d="M339.6,404.4 L336.5,405.9 L332.1,405.6 L328.9,407.2 L328.1,411.7 L327.4,416.6" fill="none" stroke="#5a5a5a" stroke-width="1.3"/>
<path d="M347.2,417.6 L343.0,416.1 L339.5,416.2 L337.9,419.9 L336.9,424.8 L334.6,427.1" fill="none" stroke="#5a5a5a" stroke-width="1.3"/>
<path d="M349.3,422.5 L345.7,421.5 L343.8,424.4 L342.7,429.3 L340.5,431.9 L337.1,431.0" fill="none" stroke="#5a5a5a" stroke-width="1.3"/>
<path d="M352.7,432.3 L349.3,434.6 L346.5,439.7 L343.2,442.9 L339.0,442.2 L334.6,440.8" fill="none" stroke="#5a5a5a" stroke-width="1.3"/>
<path d="M356.1,448.1 L353.8,452.3 L351.2,455.4 L348.2,454.2 L345.0,451.1 L342.0,450.7" fill="none" stroke="#5a5a5a" stroke-width="1.3"/>
<ellipse cx="282.20" cy="463.60" rx="75.50" ry="92.50" fill="none" stroke="#555555" stroke-width="2.0"/>
<line x1="281.00" y1="373.00" x2="281.00" y2="557.00" stroke="#3a3a3a" stroke-width="1.6"/>
<path d="M263,435 L266,435 L267,470 L264,472 Z" fill="#e8e8e8"/>
<path d="M299,438 L302,438 L303,478 L300,480 Z" fill="#e8e8e8"/>
<ellipse cx="298.00" cy="460.00" rx="3.00" ry="14.00" fill="#555555"/>
</g>
<g filter="url(#bl2)">
<path d="M232,500 C245,494 262,496 268,505 C272,520 270,540 266,552 C255,556 240,552 232,545 C224,532 224,512 232,500 Z" fill="#f2f2f2"/>
<ellipse cx="250.00" cy="512.00" rx="12.00" ry="10.00" fill="#fafafa"/>
</g>
<line x1="258.00" y1="520.00" x2="262.00" y2="545.00" stroke="#b0b0b0" stroke-width="1.2"/>
</g>
<line x1="72.50" y1="585.50" x2="76.95" y2="545.47" stroke="#d06b22" stroke-width="1.8"/>
<path d="M77.50,540.50 L80.21,547.84 L76.89,545.97 L73.25,547.07 Z" fill="#d06b22"/>
<line x1="199.00" y1="585.50" x2="219.18" y2="517.20" stroke="#2a42b0" stroke-width="1.8"/>
<path d="M220.60,512.40 L221.97,520.10 L219.04,517.67 L215.26,518.12 Z" fill="#2a42b0"/>
<line x1="305.40" y1="584.40" x2="267.33" y2="546.24" stroke="#000000" stroke-width="1.8"/>
<path d="M263.80,542.70 L271.22,545.18 L267.68,546.59 L266.27,550.13 Z" fill="#000000"/>
<text x="89.75" y="599.10" font-size="13.5" text-anchor="middle" textLength="121.50" lengthAdjust="spacingAndGlyphs">Tumour (enhancing)</text>
<text x="185.75" y="599.10" font-size="13.5" text-anchor="middle" textLength="40.50" lengthAdjust="spacingAndGlyphs">Cortex</text>
<text x="294.50" y="599.10" font-size="13.5" text-anchor="middle" textLength="150.00" lengthAdjust="spacingAndGlyphs">Tumour (non-enhancing)</text>
<text x="419.00" y="349.20" font-size="17.5" font-weight="bold" fill="#000" stroke="#000" stroke-width="0.6">c</text>
<line x1="491.60" y1="362.20" x2="491.60" y2="554.60" stroke="#444444" stroke-width="1"/>
<line x1="491.10" y1="554.10" x2="780.90" y2="554.10" stroke="#444444" stroke-width="1"/>
<line x1="484.10" y1="550.20" x2="491.60" y2="550.20" stroke="#444444" stroke-width="1"/>
<text x="477.40" y="554.70" font-size="13.2" text-anchor="end">0</text>
<line x1="484.10" y1="512.65" x2="491.60" y2="512.65" stroke="#444444" stroke-width="1"/>
<text x="477.40" y="517.15" font-size="13.2" text-anchor="end">20</text>
<line x1="484.10" y1="475.10" x2="491.60" y2="475.10" stroke="#444444" stroke-width="1"/>
<text x="477.40" y="479.60" font-size="13.2" text-anchor="end">40</text>
<line x1="484.10" y1="437.55" x2="491.60" y2="437.55" stroke="#444444" stroke-width="1"/>
<text x="477.40" y="442.05" font-size="13.2" text-anchor="end">60</text>
<line x1="484.10" y1="400.00" x2="491.60" y2="400.00" stroke="#444444" stroke-width="1"/>
<text x="477.40" y="404.50" font-size="13.2" text-anchor="end">80</text>
<line x1="484.10" y1="362.45" x2="491.60" y2="362.45" stroke="#444444" stroke-width="1"/>
<text x="477.40" y="366.95" font-size="13.2" text-anchor="end">100</text>
<line x1="496.80" y1="554.10" x2="496.80" y2="561.10" stroke="#444444" stroke-width="1"/>
<text x="496.80" y="579.20" font-size="13.2" text-anchor="middle">0</text>
<line x1="567.70" y1="554.10" x2="567.70" y2="561.10" stroke="#444444" stroke-width="1"/>
<text x="567.70" y="579.20" font-size="13.2" text-anchor="middle">60</text>
<line x1="638.60" y1="554.10" x2="638.60" y2="561.10" stroke="#444444" stroke-width="1"/>
<text x="638.60" y="579.20" font-size="13.2" text-anchor="middle">120</text>
<line x1="709.51" y1="554.10" x2="709.51" y2="561.10" stroke="#444444" stroke-width="1"/>
<text x="709.51" y="579.20" font-size="13.2" text-anchor="middle">180</text>
<line x1="780.41" y1="554.10" x2="780.41" y2="561.10" stroke="#444444" stroke-width="1"/>
<text x="780.41" y="579.20" font-size="13.2" text-anchor="middle">240</text>
<text x="635.90" y="601.10" font-size="13.5" text-anchor="middle" textLength="63.80" lengthAdjust="spacingAndGlyphs">Time (min)</text>
<text x="429.60" y="458.00" font-size="13.5" text-anchor="middle" textLength="129.40" lengthAdjust="spacingAndGlyphs" transform="rotate(-90 429.60 458.00)">Plasma m+6 glucose</text>
<text x="445.20" y="458.50" font-size="13.5" text-anchor="middle" textLength="118.40" lengthAdjust="spacingAndGlyphs" transform="rotate(-90 445.20 458.50)">(human, % of total)</text>
<path d="M496.80,550.20 L532.25,470.78 L567.70,474.54 L603.15,470.78 L638.60,468.72 L674.06,466.46 L709.51,460.08" fill="none" stroke="#a2a23e" stroke-width="1.45"/>
<path d="M496.80,550.20 L532.25,488.43 L567.70,491.25 L603.15,499.70 L638.60,499.70 L674.06,490.12 L691.54,490.12" fill="none" stroke="#86c8e8" stroke-width="1.45"/>
<path d="M496.80,550.20 L532.25,495.75 L567.70,492.00 L603.15,493.50 L638.60,488.99 L709.51,481.48 L737.28,486.37" fill="none" stroke="#d8707e" stroke-width="1.45"/>
<path d="M496.80,550.20 L532.25,506.64 L567.70,505.89 L603.15,503.26 L638.60,499.51 L709.51,498.94 L721.32,498.94" fill="none" stroke="#9c6a36" stroke-width="1.45"/>
<path d="M496.80,550.20 L532.25,507.77 L567.70,511.34 L603.15,507.77 L638.60,506.45 L709.51,494.44" fill="none" stroke="#f07d3c" stroke-width="1.45"/>
<path d="M496.80,550.20 L532.25,515.47 L567.70,505.14 L603.15,502.14 L638.60,496.69 L674.06,488.62 L709.51,483.92 L756.77,476.23" fill="none" stroke="#2b8a52" stroke-width="1.45"/>
<path d="M496.80,550.20 L532.25,502.70 L567.70,499.88 L603.15,497.25 L638.60,492.75 L652.55,492.75" fill="none" stroke="#3f3f92" stroke-width="1.45"/>
<path d="M496.80,550.20 L532.25,504.76 L567.70,501.57 L603.15,498.94 L638.60,493.88 L709.51,488.24" fill="none" stroke="#1e1e1e" stroke-width="1.45"/>
<circle cx="496.80" cy="550.20" r="3.95" fill="none" stroke="#a2a23e" stroke-width="1.3"/>
<circle cx="532.25" cy="470.78" r="3.95" fill="none" stroke="#a2a23e" stroke-width="1.3"/>
<circle cx="567.70" cy="474.54" r="3.95" fill="none" stroke="#a2a23e" stroke-width="1.3"/>
<circle cx="603.15" cy="470.78" r="3.95" fill="none" stroke="#a2a23e" stroke-width="1.3"/>
<circle cx="638.60" cy="468.72" r="3.95" fill="none" stroke="#a2a23e" stroke-width="1.3"/>
<circle cx="674.06" cy="466.46" r="3.95" fill="none" stroke="#a2a23e" stroke-width="1.3"/>
<circle cx="496.80" cy="550.20" r="3.95" fill="none" stroke="#86c8e8" stroke-width="1.3"/>
<circle cx="532.25" cy="488.43" r="3.95" fill="none" stroke="#86c8e8" stroke-width="1.3"/>
<circle cx="567.70" cy="491.25" r="3.95" fill="none" stroke="#86c8e8" stroke-width="1.3"/>
<circle cx="603.15" cy="499.70" r="3.95" fill="none" stroke="#86c8e8" stroke-width="1.3"/>
<circle cx="638.60" cy="499.70" r="3.95" fill="none" stroke="#86c8e8" stroke-width="1.3"/>
<circle cx="674.06" cy="490.12" r="3.95" fill="none" stroke="#86c8e8" stroke-width="1.3"/>
<circle cx="496.80" cy="550.20" r="3.95" fill="none" stroke="#d8707e" stroke-width="1.3"/>
<circle cx="532.25" cy="495.75" r="3.95" fill="none" stroke="#d8707e" stroke-width="1.3"/>
<circle cx="567.70" cy="492.00" r="3.95" fill="none" stroke="#d8707e" stroke-width="1.3"/>
<circle cx="603.15" cy="493.50" r="3.95" fill="none" stroke="#d8707e" stroke-width="1.3"/>
<circle cx="638.60" cy="488.99" r="3.95" fill="none" stroke="#d8707e" stroke-width="1.3"/>
<circle cx="709.51" cy="481.48" r="3.95" fill="none" stroke="#d8707e" stroke-width="1.3"/>
<circle cx="496.80" cy="550.20" r="3.95" fill="none" stroke="#9c6a36" stroke-width="1.3"/>
<circle cx="532.25" cy="506.64" r="3.95" fill="none" stroke="#9c6a36" stroke-width="1.3"/>
<circle cx="567.70" cy="505.89" r="3.95" fill="none" stroke="#9c6a36" stroke-width="1.3"/>
<circle cx="603.15" cy="503.26" r="3.95" fill="none" stroke="#9c6a36" stroke-width="1.3"/>
<circle cx="638.60" cy="499.51" r="3.95" fill="none" stroke="#9c6a36" stroke-width="1.3"/>
<circle cx="709.51" cy="498.94" r="3.95" fill="none" stroke="#9c6a36" stroke-width="1.3"/>
<circle cx="496.80" cy="550.20" r="3.95" fill="none" stroke="#f07d3c" stroke-width="1.3"/>
<circle cx="532.25" cy="507.77" r="3.95" fill="none" stroke="#f07d3c" stroke-width="1.3"/>
<circle cx="567.70" cy="511.34" r="3.95" fill="none" stroke="#f07d3c" stroke-width="1.3"/>
<circle cx="603.15" cy="507.77" r="3.95" fill="none" stroke="#f07d3c" stroke-width="1.3"/>
<circle cx="638.60" cy="506.45" r="3.95" fill="none" stroke="#f07d3c" stroke-width="1.3"/>
<circle cx="709.51" cy="494.44" r="3.95" fill="none" stroke="#f07d3c" stroke-width="1.3"/>
<circle cx="496.80" cy="550.20" r="3.95" fill="none" stroke="#2b8a52" stroke-width="1.3"/>
<circle cx="532.25" cy="515.47" r="3.95" fill="none" stroke="#2b8a52" stroke-width="1.3"/>
<circle cx="567.70" cy="505.14" r="3.95" fill="none" stroke="#2b8a52" stroke-width="1.3"/>
<circle cx="603.15" cy="502.14" r="3.95" fill="none" stroke="#2b8a52" stroke-width="1.3"/>
<circle cx="638.60" cy="496.69" r="3.95" fill="none" stroke="#2b8a52" stroke-width="1.3"/>
<circle cx="674.06" cy="488.62" r="3.95" fill="none" stroke="#2b8a52" stroke-width="1.3"/>
<circle cx="709.51" cy="483.92" r="3.95" fill="none" stroke="#2b8a52" stroke-width="1.3"/>
<circle cx="496.80" cy="550.20" r="3.95" fill="none" stroke="#3f3f92" stroke-width="1.3"/>
<circle cx="532.25" cy="502.70" r="3.95" fill="none" stroke="#3f3f92" stroke-width="1.3"/>
<circle cx="567.70" cy="499.88" r="3.95" fill="none" stroke="#3f3f92" stroke-width="1.3"/>
<circle cx="603.15" cy="497.25" r="3.95" fill="none" stroke="#3f3f92" stroke-width="1.3"/>
<circle cx="638.60" cy="492.75" r="3.95" fill="none" stroke="#3f3f92" stroke-width="1.3"/>
<circle cx="496.80" cy="550.20" r="3.95" fill="none" stroke="#1e1e1e" stroke-width="1.3"/>
<circle cx="532.25" cy="504.76" r="3.95" fill="none" stroke="#1e1e1e" stroke-width="1.3"/>
<circle cx="567.70" cy="501.57" r="3.95" fill="none" stroke="#1e1e1e" stroke-width="1.3"/>
<circle cx="603.15" cy="498.94" r="3.95" fill="none" stroke="#1e1e1e" stroke-width="1.3"/>
<circle cx="638.60" cy="493.88" r="3.95" fill="none" stroke="#1e1e1e" stroke-width="1.3"/>
<circle cx="709.51" cy="488.24" r="3.95" fill="none" stroke="#1e1e1e" stroke-width="1.3"/>
<path d="M652.55,488.15 L656.95,495.75 L648.15,495.75 Z" fill="none" stroke="#111" stroke-width="1.3"/>
<path d="M691.54,485.52 L695.94,493.12 L687.14,493.12 Z" fill="none" stroke="#111" stroke-width="1.3"/>
<path d="M709.51,455.48 L713.91,463.08 L705.11,463.08 Z" fill="none" stroke="#111" stroke-width="1.3"/>
<path d="M709.51,483.08 L713.91,490.68 L705.11,490.68 Z" fill="none" stroke="#111" stroke-width="1.3"/>
<path d="M709.51,490.59 L713.91,498.19 L705.11,498.19 Z" fill="none" stroke="#111" stroke-width="1.3"/>
<path d="M721.32,494.34 L725.72,501.94 L716.92,501.94 Z" fill="none" stroke="#111" stroke-width="1.3"/>
<path d="M737.28,481.77 L741.68,489.37 L732.88,489.37 Z" fill="none" stroke="#111" stroke-width="1.3"/>
<path d="M756.77,471.63 L761.17,479.23 L752.37,479.23 Z" fill="none" stroke="#111" stroke-width="1.3"/>
<line x1="500.20" y1="363.10" x2="520.60" y2="363.10" stroke="#1e1e1e" stroke-width="1.45"/>
<circle cx="510.50" cy="363.10" r="3.95" fill="#fff" stroke="#1e1e1e" stroke-width="1.3"/>
<text x="528.20" y="367.50" font-size="13.5" textLength="53.20" lengthAdjust="spacingAndGlyphs">Patient 1</text>
<line x1="500.20" y1="388.90" x2="520.60" y2="388.90" stroke="#86c8e8" stroke-width="1.45"/>
<circle cx="510.50" cy="388.90" r="3.95" fill="#fff" stroke="#86c8e8" stroke-width="1.3"/>
<text x="528.20" y="393.30" font-size="13.5" textLength="53.20" lengthAdjust="spacingAndGlyphs">Patient 2</text>
<line x1="500.20" y1="414.80" x2="520.60" y2="414.80" stroke="#2b8a52" stroke-width="1.45"/>
<circle cx="510.50" cy="414.80" r="3.95" fill="#fff" stroke="#2b8a52" stroke-width="1.3"/>
<text x="528.20" y="419.20" font-size="13.5" textLength="53.20" lengthAdjust="spacingAndGlyphs">Patient 3</text>
<line x1="500.20" y1="441.00" x2="520.60" y2="441.00" stroke="#a2a23e" stroke-width="1.45"/>
<circle cx="510.50" cy="441.00" r="3.95" fill="#fff" stroke="#a2a23e" stroke-width="1.3"/>
<text x="528.20" y="445.40" font-size="13.5" textLength="53.20" lengthAdjust="spacingAndGlyphs">Patient 4</text>
<line x1="606.90" y1="363.10" x2="627.40" y2="363.10" stroke="#d8707e" stroke-width="1.45"/>
<circle cx="617.20" cy="363.10" r="3.95" fill="#fff" stroke="#d8707e" stroke-width="1.3"/>
<text x="634.90" y="367.50" font-size="13.5" textLength="54.00" lengthAdjust="spacingAndGlyphs">Patient 5</text>
<line x1="606.90" y1="388.90" x2="627.40" y2="388.90" stroke="#f07d3c" stroke-width="1.45"/>
<circle cx="617.20" cy="388.90" r="3.95" fill="#fff" stroke="#f07d3c" stroke-width="1.3"/>
<text x="634.90" y="393.30" font-size="13.5" textLength="54.00" lengthAdjust="spacingAndGlyphs">Patient 6</text>
<line x1="606.90" y1="414.80" x2="627.40" y2="414.80" stroke="#9c6a36" stroke-width="1.45"/>
<circle cx="617.20" cy="414.80" r="3.95" fill="#fff" stroke="#9c6a36" stroke-width="1.3"/>
<text x="634.90" y="419.20" font-size="13.5" textLength="54.00" lengthAdjust="spacingAndGlyphs">Patient 7</text>
<line x1="606.90" y1="441.00" x2="627.40" y2="441.00" stroke="#3f3f92" stroke-width="1.45"/>
<circle cx="617.20" cy="441.00" r="3.95" fill="#fff" stroke="#3f3f92" stroke-width="1.3"/>
<text x="634.90" y="445.40" font-size="13.5" textLength="54.00" lengthAdjust="spacingAndGlyphs">Patient 8</text>
<text x="832.00" y="349.00" font-size="17.5" font-weight="bold" fill="#000" stroke="#000" stroke-width="0.6">d</text>
<line x1="905.50" y1="361.00" x2="905.50" y2="554.50" stroke="#444444" stroke-width="1"/>
<line x1="905.00" y1="554.00" x2="1195.00" y2="554.00" stroke="#444444" stroke-width="1"/>
<line x1="898.00" y1="544.25" x2="905.50" y2="544.25" stroke="#444444" stroke-width="1"/>
<text x="890.60" y="548.85" font-size="13.2" text-anchor="end">0</text>
<line x1="898.00" y1="507.60" x2="905.50" y2="507.60" stroke="#444444" stroke-width="1"/>
<text x="890.60" y="512.20" font-size="13.2" text-anchor="end">20</text>
<line x1="898.00" y1="470.95" x2="905.50" y2="470.95" stroke="#444444" stroke-width="1"/>
<text x="890.60" y="475.55" font-size="13.2" text-anchor="end">40</text>
<line x1="898.00" y1="434.30" x2="905.50" y2="434.30" stroke="#444444" stroke-width="1"/>
<text x="890.60" y="438.90" font-size="13.2" text-anchor="end">60</text>
<line x1="898.00" y1="397.65" x2="905.50" y2="397.65" stroke="#444444" stroke-width="1"/>
<text x="890.60" y="402.25" font-size="13.2" text-anchor="end">80</text>
<line x1="898.00" y1="361.00" x2="905.50" y2="361.00" stroke="#444444" stroke-width="1"/>
<text x="890.60" y="365.60" font-size="13.2" text-anchor="end">100</text>
<line x1="911.00" y1="554.00" x2="911.00" y2="561.00" stroke="#444444" stroke-width="1"/>
<text x="911.00" y="579.20" font-size="13.2" text-anchor="middle">0</text>
<line x1="980.50" y1="554.00" x2="980.50" y2="561.00" stroke="#444444" stroke-width="1"/>
<text x="980.50" y="579.20" font-size="13.2" text-anchor="middle">60</text>
<line x1="1050.00" y1="554.00" x2="1050.00" y2="561.00" stroke="#444444" stroke-width="1"/>
<text x="1050.00" y="579.20" font-size="13.2" text-anchor="middle">120</text>
<line x1="1119.50" y1="554.00" x2="1119.50" y2="561.00" stroke="#444444" stroke-width="1"/>
<text x="1119.50" y="579.20" font-size="13.2" text-anchor="middle">180</text>
<line x1="1189.00" y1="554.00" x2="1189.00" y2="561.00" stroke="#444444" stroke-width="1"/>
<text x="1189.00" y="579.20" font-size="13.2" text-anchor="middle">240</text>
<text x="1050.00" y="600.50" font-size="13.5" text-anchor="middle" textLength="63.80" lengthAdjust="spacingAndGlyphs">Time (min)</text>
<text x="842.80" y="458.00" font-size="13.5" text-anchor="middle" textLength="128.40" lengthAdjust="spacingAndGlyphs" transform="rotate(-90 842.80 458.00)">Plasma m+6 glucose</text>
<text x="857.40" y="458.00" font-size="13.5" text-anchor="middle" textLength="117.50" lengthAdjust="spacingAndGlyphs" transform="rotate(-90 857.40 458.00)">(mouse, % of total)</text>
<path d="M911.00,544.25 L916.79,494.22 L928.37,496.79 L945.75,492.21 L963.12,485.06 L980.50,477.00 L1050.00,461.42 L1119.50,443.83 L1189.00,435.77" fill="none" stroke="#a30d12" stroke-width="1.5"/>
<rect x="906.90" y="540.15" width="8.20" height="8.20" fill="#a30d12"/>
<line x1="916.79" y1="485.79" x2="916.79" y2="502.65" stroke="#a30d12" stroke-width="1.3"/>
<line x1="912.99" y1="485.79" x2="920.59" y2="485.79" stroke="#a30d12" stroke-width="1.3"/>
<line x1="912.99" y1="502.65" x2="920.59" y2="502.65" stroke="#a30d12" stroke-width="1.3"/>
<rect x="912.69" y="490.12" width="8.20" height="8.20" fill="#a30d12"/>
<line x1="928.37" y1="488.73" x2="928.37" y2="504.85" stroke="#a30d12" stroke-width="1.3"/>
<line x1="924.57" y1="488.73" x2="932.17" y2="488.73" stroke="#a30d12" stroke-width="1.3"/>
<line x1="924.57" y1="504.85" x2="932.17" y2="504.85" stroke="#a30d12" stroke-width="1.3"/>
<rect x="924.27" y="492.69" width="8.20" height="8.20" fill="#a30d12"/>
<line x1="945.75" y1="481.03" x2="945.75" y2="503.39" stroke="#a30d12" stroke-width="1.3"/>
<line x1="941.95" y1="481.03" x2="949.55" y2="481.03" stroke="#a30d12" stroke-width="1.3"/>
<line x1="941.95" y1="503.39" x2="949.55" y2="503.39" stroke="#a30d12" stroke-width="1.3"/>
<rect x="941.65" y="488.11" width="8.20" height="8.20" fill="#a30d12"/>
<line x1="963.12" y1="474.80" x2="963.12" y2="495.32" stroke="#a30d12" stroke-width="1.3"/>
<line x1="959.32" y1="474.80" x2="966.92" y2="474.80" stroke="#a30d12" stroke-width="1.3"/>
<line x1="959.32" y1="495.32" x2="966.92" y2="495.32" stroke="#a30d12" stroke-width="1.3"/>
<rect x="959.02" y="480.96" width="8.20" height="8.20" fill="#a30d12"/>
<line x1="980.50" y1="464.17" x2="980.50" y2="489.82" stroke="#a30d12" stroke-width="1.3"/>
<line x1="976.70" y1="464.17" x2="984.30" y2="464.17" stroke="#a30d12" stroke-width="1.3"/>
<line x1="976.70" y1="489.82" x2="984.30" y2="489.82" stroke="#a30d12" stroke-width="1.3"/>
<rect x="976.40" y="472.90" width="8.20" height="8.20" fill="#a30d12"/>
<line x1="1050.00" y1="447.13" x2="1050.00" y2="475.71" stroke="#a30d12" stroke-width="1.3"/>
<line x1="1046.20" y1="447.13" x2="1053.80" y2="447.13" stroke="#a30d12" stroke-width="1.3"/>
<line x1="1046.20" y1="475.71" x2="1053.80" y2="475.71" stroke="#a30d12" stroke-width="1.3"/>
<rect x="1045.90" y="457.32" width="8.20" height="8.20" fill="#a30d12"/>
<line x1="1119.50" y1="431.55" x2="1119.50" y2="456.11" stroke="#a30d12" stroke-width="1.3"/>
<line x1="1115.70" y1="431.55" x2="1123.30" y2="431.55" stroke="#a30d12" stroke-width="1.3"/>
<line x1="1115.70" y1="456.11" x2="1123.30" y2="456.11" stroke="#a30d12" stroke-width="1.3"/>
<rect x="1115.40" y="439.73" width="8.20" height="8.20" fill="#a30d12"/>
<rect x="1184.90" y="431.67" width="8.20" height="8.20" fill="#a30d12"/>
<text x="0.50" y="636.60" font-size="17.5" font-weight="bold" fill="#000" stroke="#000" stroke-width="0.6">e</text>
<line x1="60.50" y1="665.40" x2="60.50" y2="899.40" stroke="#444444" stroke-width="1.1"/>
<line x1="52.00" y1="899.40" x2="412.00" y2="899.40" stroke="#444444" stroke-width="1.1"/>
<text x="45.60" y="904.40" font-size="13.5" text-anchor="end">0</text>
<line x1="52.70" y1="854.50" x2="60.50" y2="854.50" stroke="#444444" stroke-width="1.1"/>
<text x="45.60" y="859.50" font-size="13.5" text-anchor="end">25</text>
<line x1="52.70" y1="809.60" x2="60.50" y2="809.60" stroke="#444444" stroke-width="1.1"/>
<text x="45.60" y="814.60" font-size="13.5" text-anchor="end">50</text>
<line x1="52.70" y1="764.70" x2="60.50" y2="764.70" stroke="#444444" stroke-width="1.1"/>
<text x="45.60" y="769.70" font-size="13.5" text-anchor="end">75</text>
<line x1="52.70" y1="719.80" x2="60.50" y2="719.80" stroke="#444444" stroke-width="1.1"/>
<text x="45.60" y="724.80" font-size="13.5" text-anchor="end">100</text>
<line x1="52.70" y1="674.90" x2="60.50" y2="674.90" stroke="#444444" stroke-width="1.1"/>
<text x="45.60" y="679.90" font-size="13.5" text-anchor="end">125</text>
<line x1="92.45" y1="899.40" x2="92.45" y2="907.60" stroke="#444444" stroke-width="1.1"/>
<line x1="163.85" y1="899.40" x2="163.85" y2="907.60" stroke="#444444" stroke-width="1.1"/>
<line x1="235.25" y1="899.40" x2="235.25" y2="907.60" stroke="#444444" stroke-width="1.1"/>
<line x1="306.65" y1="899.40" x2="306.65" y2="907.60" stroke="#444444" stroke-width="1.1"/>
<line x1="378.50" y1="899.40" x2="378.50" y2="907.60" stroke="#444444" stroke-width="1.1"/>
<text x="92.50" y="924.10" font-size="13.5" text-anchor="middle" textLength="32.60" lengthAdjust="spacingAndGlyphs">GAP/</text>
<text x="92.80" y="940.60" font-size="13.5" text-anchor="middle" textLength="36.40" lengthAdjust="spacingAndGlyphs">DHAP</text>
<text x="163.30" y="924.10" font-size="13.5" text-anchor="middle" textLength="31.80" lengthAdjust="spacingAndGlyphs">3PG/</text>
<text x="163.10" y="940.60" font-size="13.5" text-anchor="middle" textLength="27.80" lengthAdjust="spacingAndGlyphs">2PG</text>
<text x="235.60" y="924.10" font-size="13.5" text-anchor="middle" textLength="25.20" lengthAdjust="spacingAndGlyphs">PEP</text>
<text x="307.10" y="924.10" font-size="13.5" text-anchor="middle" textLength="53.20" lengthAdjust="spacingAndGlyphs">Pyruvate</text>
<text x="378.70" y="924.10" font-size="13.5" text-anchor="middle" textLength="45.00" lengthAdjust="spacingAndGlyphs">Lactate</text>
<text x="12.00" y="782.00" font-size="13.5" text-anchor="middle" textLength="204.00" lengthAdjust="spacingAndGlyphs" transform="rotate(-90 12.00 782.00)">Normalized mean enrichment (%)</text>
<rect x="67.00" y="839.59" width="12.00" height="59.81" fill="#ffffff" stroke="#4557b3" stroke-width="1.3"/>
<rect x="86.45" y="863.30" width="12.00" height="36.10" fill="#ffffff" stroke="#cf6a27" stroke-width="1.3"/>
<rect x="106.30" y="859.35" width="12.00" height="40.05" fill="#d3d3d3" stroke="#111111" stroke-width="1.6"/>
<line x1="73.00" y1="808.34" x2="73.00" y2="868.87" stroke="#3346a8" stroke-width="1.3"/>
<line x1="69.80" y1="808.34" x2="76.20" y2="808.34" stroke="#3346a8" stroke-width="1.3"/>
<line x1="69.80" y1="868.87" x2="76.20" y2="868.87" stroke="#3346a8" stroke-width="1.3"/>
<circle cx="73.00" cy="777.45" r="2.75" fill="#3346a8"/>
<circle cx="73.00" cy="825.58" r="2.75" fill="#3346a8"/>
<circle cx="73.00" cy="832.77" r="2.75" fill="#3346a8"/>
<circle cx="68.80" cy="838.52" r="2.75" fill="#3346a8"/>
<circle cx="77.20" cy="838.52" r="2.75" fill="#3346a8"/>
<circle cx="73.00" cy="854.14" r="2.75" fill="#3346a8"/>
<circle cx="73.00" cy="859.35" r="2.75" fill="#3346a8"/>
<circle cx="73.00" cy="881.98" r="2.75" fill="#3346a8"/>
<line x1="92.45" y1="850.37" x2="92.45" y2="872.46" stroke="#cf6a27" stroke-width="1.3"/>
<line x1="89.25" y1="850.37" x2="95.65" y2="850.37" stroke="#cf6a27" stroke-width="1.3"/>
<line x1="89.25" y1="872.46" x2="95.65" y2="872.46" stroke="#cf6a27" stroke-width="1.3"/>
<path d="M92.45,839.05 L95.93,845.17 L88.97,845.17 Z" fill="#cf6a27"/>
<path d="M87.95,857.37 L91.43,863.49 L84.47,863.49 Z" fill="#cf6a27"/>
<path d="M92.45,856.65 L95.93,862.77 L88.97,862.77 Z" fill="#cf6a27"/>
<path d="M96.95,858.08 L100.43,864.20 L93.47,864.20 Z" fill="#cf6a27"/>
<path d="M92.45,865.09 L95.93,871.21 L88.97,871.21 Z" fill="#cf6a27"/>
<path d="M92.45,872.63 L95.93,878.75 L88.97,878.75 Z" fill="#cf6a27"/>
<line x1="112.30" y1="842.83" x2="112.30" y2="876.95" stroke="#111111" stroke-width="1.3"/>
<line x1="109.10" y1="842.83" x2="115.50" y2="842.83" stroke="#111111" stroke-width="1.3"/>
<line x1="109.10" y1="876.95" x2="115.50" y2="876.95" stroke="#111111" stroke-width="1.3"/>
<rect x="109.80" y="827.75" width="5.00" height="5.00" fill="#111111"/>
<rect x="109.80" y="837.09" width="5.00" height="5.00" fill="#111111"/>
<rect x="109.80" y="843.02" width="5.00" height="5.00" fill="#111111"/>
<rect x="109.80" y="853.62" width="5.00" height="5.00" fill="#111111"/>
<rect x="105.60" y="866.91" width="5.00" height="5.00" fill="#111111"/>
<rect x="114.00" y="866.55" width="5.00" height="5.00" fill="#111111"/>
<rect x="109.80" y="874.09" width="5.00" height="5.00" fill="#111111"/>
<rect x="109.80" y="881.63" width="5.00" height="5.00" fill="#111111"/>
<rect x="138.40" y="830.25" width="12.00" height="69.15" fill="#ffffff" stroke="#4557b3" stroke-width="1.3"/>
<rect x="157.85" y="846.78" width="12.00" height="52.62" fill="#ffffff" stroke="#cf6a27" stroke-width="1.3"/>
<rect x="177.70" y="848.39" width="12.00" height="51.01" fill="#d3d3d3" stroke="#111111" stroke-width="1.6"/>
<line x1="144.40" y1="807.62" x2="144.40" y2="851.45" stroke="#3346a8" stroke-width="1.3"/>
<line x1="141.20" y1="807.62" x2="147.60" y2="807.62" stroke="#3346a8" stroke-width="1.3"/>
<line x1="141.20" y1="851.45" x2="147.60" y2="851.45" stroke="#3346a8" stroke-width="1.3"/>
<circle cx="144.40" cy="798.46" r="2.75" fill="#3346a8"/>
<circle cx="140.20" cy="815.17" r="2.75" fill="#3346a8"/>
<circle cx="148.60" cy="812.65" r="2.75" fill="#3346a8"/>
<circle cx="144.40" cy="833.49" r="2.75" fill="#3346a8"/>
<circle cx="144.40" cy="838.16" r="2.75" fill="#3346a8"/>
<circle cx="144.40" cy="848.03" r="2.75" fill="#3346a8"/>
<circle cx="144.40" cy="861.68" r="2.75" fill="#3346a8"/>
<line x1="163.85" y1="835.82" x2="163.85" y2="857.91" stroke="#cf6a27" stroke-width="1.3"/>
<line x1="160.65" y1="835.82" x2="167.05" y2="835.82" stroke="#cf6a27" stroke-width="1.3"/>
<line x1="160.65" y1="857.91" x2="167.05" y2="857.91" stroke="#cf6a27" stroke-width="1.3"/>
<path d="M160.85,832.22 L164.33,838.34 L157.37,838.34 Z" fill="#cf6a27"/>
<path d="M166.85,832.22 L170.33,838.34 L163.37,838.34 Z" fill="#cf6a27"/>
<path d="M163.85,835.99 L167.33,842.11 L160.37,842.11 Z" fill="#cf6a27"/>
<path d="M163.85,846.77 L167.33,852.89 L160.37,852.89 Z" fill="#cf6a27"/>
<path d="M160.85,855.75 L164.33,861.87 L157.37,861.87 Z" fill="#cf6a27"/>
<path d="M166.85,855.75 L170.33,861.87 L163.37,861.87 Z" fill="#cf6a27"/>
<line x1="183.70" y1="827.38" x2="183.70" y2="868.69" stroke="#111111" stroke-width="1.3"/>
<line x1="180.50" y1="827.38" x2="186.90" y2="827.38" stroke="#111111" stroke-width="1.3"/>
<line x1="180.50" y1="868.69" x2="186.90" y2="868.69" stroke="#111111" stroke-width="1.3"/>
<rect x="176.70" y="827.75" width="5.00" height="5.00" fill="#111111"/>
<rect x="185.70" y="826.32" width="5.00" height="5.00" fill="#111111"/>
<rect x="176.70" y="839.79" width="5.00" height="5.00" fill="#111111"/>
<rect x="185.70" y="836.02" width="5.00" height="5.00" fill="#111111"/>
<rect x="176.70" y="871.94" width="5.00" height="5.00" fill="#111111"/>
<rect x="185.70" y="869.96" width="5.00" height="5.00" fill="#111111"/>
<rect x="209.80" y="822.89" width="12.00" height="76.51" fill="#ffffff" stroke="#4557b3" stroke-width="1.3"/>
<rect x="229.25" y="838.52" width="12.00" height="60.88" fill="#ffffff" stroke="#cf6a27" stroke-width="1.3"/>
<rect x="249.10" y="839.95" width="12.00" height="59.45" fill="#d3d3d3" stroke="#111111" stroke-width="1.6"/>
<line x1="215.80" y1="784.46" x2="215.80" y2="859.17" stroke="#3346a8" stroke-width="1.3"/>
<line x1="212.60" y1="784.46" x2="219.00" y2="784.46" stroke="#3346a8" stroke-width="1.3"/>
<line x1="212.60" y1="859.17" x2="219.00" y2="859.17" stroke="#3346a8" stroke-width="1.3"/>
<circle cx="215.80" cy="784.46" r="2.75" fill="#3346a8"/>
<circle cx="215.80" cy="797.75" r="2.75" fill="#3346a8"/>
<circle cx="215.80" cy="816.25" r="2.75" fill="#3346a8"/>
<circle cx="215.80" cy="835.82" r="2.75" fill="#3346a8"/>
<circle cx="215.80" cy="878.03" r="2.75" fill="#3346a8"/>
<line x1="235.25" y1="827.02" x2="235.25" y2="850.01" stroke="#cf6a27" stroke-width="1.3"/>
<line x1="232.05" y1="827.02" x2="238.45" y2="827.02" stroke="#cf6a27" stroke-width="1.3"/>
<line x1="232.05" y1="850.01" x2="238.45" y2="850.01" stroke="#cf6a27" stroke-width="1.3"/>
<path d="M233.25,822.34 L236.73,828.46 L229.77,828.46 Z" fill="#cf6a27"/>
<path d="M236.75,825.76 L240.23,831.88 L233.27,831.88 Z" fill="#cf6a27"/>
<path d="M232.25,836.71 L235.73,842.83 L228.77,842.83 Z" fill="#cf6a27"/>
<path d="M238.25,836.71 L241.73,842.83 L234.77,842.83 Z" fill="#cf6a27"/>
<path d="M235.25,849.64 L238.73,855.76 L231.77,855.76 Z" fill="#cf6a27"/>
<line x1="255.10" y1="822.17" x2="255.10" y2="857.37" stroke="#111111" stroke-width="1.3"/>
<line x1="251.90" y1="822.17" x2="258.30" y2="822.17" stroke="#111111" stroke-width="1.3"/>
<line x1="251.90" y1="857.37" x2="258.30" y2="857.37" stroke="#111111" stroke-width="1.3"/>
<rect x="248.10" y="823.62" width="5.00" height="5.00" fill="#111111"/>
<rect x="257.10" y="823.62" width="5.00" height="5.00" fill="#111111"/>
<rect x="252.60" y="831.71" width="5.00" height="5.00" fill="#111111"/>
<rect x="252.60" y="839.07" width="5.00" height="5.00" fill="#111111"/>
<rect x="252.60" y="866.55" width="5.00" height="5.00" fill="#111111"/>
<rect x="281.20" y="772.78" width="12.00" height="126.62" fill="#ffffff" stroke="#4557b3" stroke-width="1.3"/>
<rect x="300.65" y="789.48" width="12.00" height="109.92" fill="#ffffff" stroke="#cf6a27" stroke-width="1.3"/>
<rect x="320.50" y="797.75" width="12.00" height="101.65" fill="#d3d3d3" stroke="#111111" stroke-width="1.6"/>
<line x1="287.20" y1="721.96" x2="287.20" y2="822.17" stroke="#3346a8" stroke-width="1.3"/>
<line x1="284.00" y1="721.96" x2="290.40" y2="721.96" stroke="#3346a8" stroke-width="1.3"/>
<line x1="284.00" y1="822.17" x2="290.40" y2="822.17" stroke="#3346a8" stroke-width="1.3"/>
<circle cx="287.20" cy="695.19" r="2.75" fill="#3346a8"/>
<circle cx="287.20" cy="728.96" r="2.75" fill="#3346a8"/>
<circle cx="287.20" cy="734.17" r="2.75" fill="#3346a8"/>
<circle cx="287.20" cy="767.21" r="2.75" fill="#3346a8"/>
<circle cx="287.20" cy="788.05" r="2.75" fill="#3346a8"/>
<circle cx="287.20" cy="793.62" r="2.75" fill="#3346a8"/>
<circle cx="282.20" cy="834.74" r="2.75" fill="#3346a8"/>
<circle cx="292.20" cy="833.49" r="2.75" fill="#3346a8"/>
<line x1="306.65" y1="733.63" x2="306.65" y2="843.54" stroke="#cf6a27" stroke-width="1.3"/>
<line x1="303.45" y1="733.63" x2="309.85" y2="733.63" stroke="#cf6a27" stroke-width="1.3"/>
<line x1="303.45" y1="843.54" x2="309.85" y2="843.54" stroke="#cf6a27" stroke-width="1.3"/>
<path d="M306.65,697.70 L310.13,703.82 L303.17,703.82 Z" fill="#cf6a27"/>
<path d="M306.65,730.03 L310.13,736.15 L303.17,736.15 Z" fill="#cf6a27"/>
<path d="M306.65,785.35 L310.13,791.47 L303.17,791.47 Z" fill="#cf6a27"/>
<path d="M306.65,795.40 L310.13,801.52 L303.17,801.52 Z" fill="#cf6a27"/>
<path d="M306.65,806.90 L310.13,813.02 L303.17,813.02 Z" fill="#cf6a27"/>
<path d="M306.65,819.29 L310.13,825.41 L303.17,825.41 Z" fill="#cf6a27"/>
<path d="M306.65,827.55 L310.13,833.67 L303.17,833.67 Z" fill="#cf6a27"/>
<path d="M306.65,845.51 L310.13,851.63 L303.17,851.63 Z" fill="#cf6a27"/>
<line x1="326.50" y1="744.05" x2="326.50" y2="847.68" stroke="#111111" stroke-width="1.3"/>
<line x1="323.30" y1="744.05" x2="329.70" y2="744.05" stroke="#111111" stroke-width="1.3"/>
<line x1="323.30" y1="847.68" x2="329.70" y2="847.68" stroke="#111111" stroke-width="1.3"/>
<rect x="320.00" y="740.65" width="5.00" height="5.00" fill="#111111"/>
<rect x="328.00" y="744.96" width="5.00" height="5.00" fill="#111111"/>
<rect x="324.00" y="750.35" width="5.00" height="5.00" fill="#111111"/>
<rect x="324.00" y="794.89" width="5.00" height="5.00" fill="#111111"/>
<rect x="324.00" y="821.29" width="5.00" height="5.00" fill="#111111"/>
<rect x="320.00" y="854.87" width="5.00" height="5.00" fill="#111111"/>
<rect x="328.00" y="854.87" width="5.00" height="5.00" fill="#111111"/>
<rect x="353.05" y="726.09" width="12.00" height="173.31" fill="#ffffff" stroke="#4557b3" stroke-width="1.3"/>
<rect x="372.50" y="733.63" width="12.00" height="165.77" fill="#ffffff" stroke="#cf6a27" stroke-width="1.3"/>
<rect x="392.35" y="752.85" width="12.00" height="146.55" fill="#d3d3d3" stroke="#111111" stroke-width="1.6"/>
<line x1="359.05" y1="675.98" x2="359.05" y2="774.94" stroke="#3346a8" stroke-width="1.3"/>
<line x1="355.85" y1="675.98" x2="362.25" y2="675.98" stroke="#3346a8" stroke-width="1.3"/>
<line x1="355.85" y1="774.94" x2="362.25" y2="774.94" stroke="#3346a8" stroke-width="1.3"/>
<circle cx="355.05" cy="700.22" r="2.75" fill="#3346a8"/>
<circle cx="363.05" cy="701.30" r="2.75" fill="#3346a8"/>
<circle cx="359.05" cy="729.68" r="2.75" fill="#3346a8"/>
<circle cx="359.05" cy="741.89" r="2.75" fill="#3346a8"/>
<circle cx="359.05" cy="756.98" r="2.75" fill="#3346a8"/>
<circle cx="359.05" cy="764.34" r="2.75" fill="#3346a8"/>
<circle cx="359.05" cy="781.22" r="2.75" fill="#3346a8"/>
<line x1="378.50" y1="673.10" x2="378.50" y2="792.18" stroke="#cf6a27" stroke-width="1.3"/>
<line x1="375.30" y1="673.10" x2="381.70" y2="673.10" stroke="#cf6a27" stroke-width="1.3"/>
<line x1="375.30" y1="792.18" x2="381.70" y2="792.18" stroke="#cf6a27" stroke-width="1.3"/>
<path d="M374.50,670.22 L377.98,676.34 L371.02,676.34 Z" fill="#cf6a27"/>
<path d="M378.50,670.22 L381.98,676.34 L375.02,676.34 Z" fill="#cf6a27"/>
<path d="M382.50,670.22 L385.98,676.34 L379.02,676.34 Z" fill="#cf6a27"/>
<path d="M378.50,733.44 L381.98,739.56 L375.02,739.56 Z" fill="#cf6a27"/>
<path d="M378.50,770.62 L381.98,776.74 L375.02,776.74 Z" fill="#cf6a27"/>
<path d="M378.50,793.25 L381.98,799.37 L375.02,799.37 Z" fill="#cf6a27"/>
<path d="M378.50,800.97 L381.98,807.09 L375.02,807.09 Z" fill="#cf6a27"/>
<line x1="398.35" y1="696.09" x2="398.35" y2="807.80" stroke="#111111" stroke-width="1.3"/>
<line x1="395.15" y1="696.09" x2="401.55" y2="696.09" stroke="#111111" stroke-width="1.3"/>
<line x1="395.15" y1="807.80" x2="401.55" y2="807.80" stroke="#111111" stroke-width="1.3"/>
<rect x="395.85" y="707.78" width="5.00" height="5.00" fill="#111111"/>
<rect x="395.85" y="711.91" width="5.00" height="5.00" fill="#111111"/>
<rect x="395.85" y="733.46" width="5.00" height="5.00" fill="#111111"/>
<rect x="395.85" y="784.65" width="5.00" height="5.00" fill="#111111"/>
<rect x="395.85" y="788.24" width="5.00" height="5.00" fill="#111111"/>
<rect x="395.85" y="799.74" width="5.00" height="5.00" fill="#111111"/>
<rect x="395.85" y="812.85" width="5.00" height="5.00" fill="#111111"/>
<text x="71.10" y="737.30" font-size="13.5"><tspan font-style="italic">P</tspan> = 0.1</text>
<line x1="73.00" y1="742.20" x2="112.00" y2="742.20" stroke="#222" stroke-width="1.3"/>
<text x="63.00" y="760.90" font-size="13.5"><tspan font-style="italic">P</tspan> = 0.1</text>
<line x1="73.00" y1="765.60" x2="92.60" y2="765.60" stroke="#222" stroke-width="1.3"/>
<text x="140.20" y="752.40" font-size="13.5"><tspan font-style="italic">P</tspan> = 0.2</text>
<line x1="142.50" y1="757.10" x2="181.00" y2="757.10" stroke="#222" stroke-width="1.3"/>
<text x="130.20" y="775.90" font-size="13.5"><tspan font-style="italic">P</tspan> = 0.2</text>
<line x1="142.50" y1="780.60" x2="161.80" y2="780.60" stroke="#222" stroke-width="1.3"/>
<text x="213.20" y="742.20" font-size="13.5"><tspan font-style="italic">P</tspan> = 0.7</text>
<line x1="215.70" y1="747.10" x2="253.60" y2="747.10" stroke="#222" stroke-width="1.3"/>
<text x="204.10" y="765.80" font-size="13.5"><tspan font-style="italic">P</tspan> = 0.7</text>
<line x1="216.50" y1="770.50" x2="234.90" y2="770.50" stroke="#222" stroke-width="1.3"/>
<text x="281.00" y="657.00" font-size="13.5"><tspan font-style="italic">P</tspan> = 0.06</text>
<line x1="287.30" y1="662.00" x2="325.80" y2="662.00" stroke="#222" stroke-width="1.3"/>
<text x="275.50" y="681.20" font-size="13.5"><tspan font-style="italic">P</tspan> = 0.3</text>
<line x1="287.30" y1="685.30" x2="305.70" y2="685.30" stroke="#222" stroke-width="1.3"/>
<text x="351.30" y="634.50" font-size="13.5"><tspan font-style="italic">P</tspan> = 0.02</text>
<line x1="358.80" y1="639.00" x2="396.30" y2="639.00" stroke="#222" stroke-width="1.3"/>
<text x="346.40" y="657.90" font-size="13.5"><tspan font-style="italic">P</tspan> = 0.5</text>
<line x1="358.70" y1="662.00" x2="377.10" y2="662.00" stroke="#222" stroke-width="1.3"/>
<rect x="0.60" y="959.90" width="24.00" height="11.20" fill="#fff" stroke="#4557b3" stroke-width="1.2"/>
<text x="32.60" y="970.30" font-size="13.5" textLength="40.70" lengthAdjust="spacingAndGlyphs">Cortex</text>
<rect x="87.90" y="959.90" width="23.70" height="11.20" fill="#fff" stroke="#cf6a27" stroke-width="1.2"/>
<text x="120.10" y="970.30" font-size="13.5" textLength="121.70" lengthAdjust="spacingAndGlyphs">Tumour (enhancing)</text>
<rect x="257.30" y="959.90" width="23.50" height="11.20" fill="#d3d3d3" stroke="#111111" stroke-width="1.2"/>
<text x="288.20" y="970.30" font-size="13.5" textLength="150.50" lengthAdjust="spacingAndGlyphs">Tumour (non-enhancing)</text>
<text x="444.60" y="636.60" font-size="17.5" font-weight="bold" fill="#000" stroke="#000" stroke-width="0.6">f</text>
<line x1="504.40" y1="675.20" x2="504.40" y2="896.80" stroke="#444444" stroke-width="1.1"/>
<line x1="496.90" y1="896.80" x2="836.00" y2="896.80" stroke="#444444" stroke-width="1.1"/>
<text x="490.00" y="901.50" font-size="13.5" text-anchor="end">0</text>
<line x1="497.20" y1="841.39" x2="504.40" y2="841.39" stroke="#444444" stroke-width="1.1"/>
<text x="490.00" y="846.09" font-size="13.5" text-anchor="end">25</text>
<line x1="497.20" y1="785.98" x2="504.40" y2="785.98" stroke="#444444" stroke-width="1.1"/>
<text x="490.00" y="790.68" font-size="13.5" text-anchor="end">50</text>
<line x1="497.20" y1="730.57" x2="504.40" y2="730.57" stroke="#444444" stroke-width="1.1"/>
<text x="490.00" y="735.27" font-size="13.5" text-anchor="end">75</text>
<line x1="497.20" y1="675.16" x2="504.40" y2="675.16" stroke="#444444" stroke-width="1.1"/>
<text x="490.00" y="679.86" font-size="13.5" text-anchor="end">100</text>
<line x1="535.40" y1="896.80" x2="535.40" y2="904.60" stroke="#444444" stroke-width="1.1"/>
<line x1="602.95" y1="896.80" x2="602.95" y2="904.60" stroke="#444444" stroke-width="1.1"/>
<line x1="670.30" y1="896.80" x2="670.30" y2="904.60" stroke="#444444" stroke-width="1.1"/>
<line x1="737.60" y1="896.80" x2="737.60" y2="904.60" stroke="#444444" stroke-width="1.1"/>
<line x1="804.90" y1="896.80" x2="804.90" y2="904.60" stroke="#444444" stroke-width="1.1"/>
<text x="535.90" y="921.00" font-size="13.5" text-anchor="middle" textLength="25.70" lengthAdjust="spacingAndGlyphs">FBP</text>
<text x="603.20" y="921.00" font-size="13.5" text-anchor="middle" textLength="33.70" lengthAdjust="spacingAndGlyphs">GAP/</text>
<text x="603.40" y="937.60" font-size="13.5" text-anchor="middle" textLength="36.30" lengthAdjust="spacingAndGlyphs">DHAP</text>
<text x="671.20" y="921.00" font-size="13.5" text-anchor="middle" textLength="33.60" lengthAdjust="spacingAndGlyphs">3PG/</text>
<text x="671.00" y="937.60" font-size="13.5" text-anchor="middle" textLength="28.00" lengthAdjust="spacingAndGlyphs">2PG</text>
<text x="737.60" y="921.00" font-size="13.5" text-anchor="middle" textLength="52.80" lengthAdjust="spacingAndGlyphs">Pyruvate</text>
<text x="804.80" y="921.00" font-size="13.5" text-anchor="middle" textLength="44.90" lengthAdjust="spacingAndGlyphs">Lactate</text>
<text x="457.00" y="785.00" font-size="13.5" text-anchor="middle" textLength="204.00" lengthAdjust="spacingAndGlyphs" transform="rotate(-90 457.00 785.00)">Normalized mean enrichment (%)</text>
<rect x="509.85" y="809.70" width="8.80" height="87.10" fill="#d3d3d3" stroke="#4557b3" stroke-width="1.3"/>
<rect x="524.40" y="847.82" width="8.80" height="48.98" fill="#ffffff" stroke="#c9974b" stroke-width="1.3"/>
<rect x="538.65" y="830.75" width="8.80" height="66.05" fill="#ffffff" stroke="#e8383d" stroke-width="1.3"/>
<rect x="553.35" y="835.63" width="8.80" height="61.17" fill="#ffffff" stroke="#111111" stroke-width="1.3"/>
<line x1="514.25" y1="757.17" x2="514.25" y2="862.45" stroke="#3346a8" stroke-width="1.3"/>
<line x1="511.45" y1="757.17" x2="517.05" y2="757.17" stroke="#3346a8" stroke-width="1.3"/>
<line x1="511.45" y1="862.45" x2="517.05" y2="862.45" stroke="#3346a8" stroke-width="1.3"/>
<circle cx="513.05" cy="737.88" r="2.61" fill="#3346a8"/>
<circle cx="515.45" cy="737.88" r="2.61" fill="#3346a8"/>
<circle cx="514.25" cy="781.10" r="2.61" fill="#3346a8"/>
<circle cx="511.85" cy="814.79" r="2.61" fill="#3346a8"/>
<circle cx="516.65" cy="814.79" r="2.61" fill="#3346a8"/>
<circle cx="514.25" cy="818.12" r="2.61" fill="#3346a8"/>
<circle cx="512.65" cy="827.65" r="2.61" fill="#3346a8"/>
<circle cx="515.85" cy="827.65" r="2.61" fill="#3346a8"/>
<circle cx="511.05" cy="836.29" r="2.61" fill="#3346a8"/>
<circle cx="517.45" cy="836.29" r="2.61" fill="#3346a8"/>
<circle cx="514.25" cy="839.17" r="2.61" fill="#3346a8"/>
<circle cx="514.25" cy="851.81" r="2.61" fill="#3346a8"/>
<circle cx="514.25" cy="859.56" r="2.61" fill="#3346a8"/>
<line x1="528.80" y1="832.30" x2="528.80" y2="863.55" stroke="#c9974b" stroke-width="1.3"/>
<line x1="526.00" y1="832.30" x2="531.60" y2="832.30" stroke="#c9974b" stroke-width="1.3"/>
<line x1="526.00" y1="863.55" x2="531.60" y2="863.55" stroke="#c9974b" stroke-width="1.3"/>
<rect x="526.42" y="824.17" width="4.75" height="4.75" fill="#c9974b"/>
<rect x="524.02" y="845.66" width="4.75" height="4.75" fill="#c9974b"/>
<rect x="528.82" y="850.10" width="4.75" height="4.75" fill="#c9974b"/>
<rect x="526.42" y="857.41" width="4.75" height="4.75" fill="#c9974b"/>
<line x1="543.05" y1="794.85" x2="543.05" y2="860.45" stroke="#e8383d" stroke-width="1.3"/>
<line x1="540.25" y1="794.85" x2="545.85" y2="794.85" stroke="#e8383d" stroke-width="1.3"/>
<line x1="540.25" y1="860.45" x2="545.85" y2="860.45" stroke="#e8383d" stroke-width="1.3"/>
<rect x="539.07" y="794.24" width="4.75" height="4.75" fill="#e8383d"/>
<rect x="542.27" y="795.57" width="4.75" height="4.75" fill="#e8383d"/>
<rect x="538.27" y="850.10" width="4.75" height="4.75" fill="#e8383d"/>
<rect x="543.07" y="850.10" width="4.75" height="4.75" fill="#e8383d"/>
<line x1="557.75" y1="796.62" x2="557.75" y2="859.56" stroke="#111111" stroke-width="1.3"/>
<line x1="554.95" y1="796.62" x2="560.55" y2="796.62" stroke="#111111" stroke-width="1.3"/>
<line x1="554.95" y1="859.56" x2="560.55" y2="859.56" stroke="#111111" stroke-width="1.3"/>
<rect x="555.38" y="756.56" width="4.75" height="4.75" fill="#111111"/>
<rect x="552.98" y="827.05" width="4.75" height="4.75" fill="#111111"/>
<rect x="557.77" y="827.05" width="4.75" height="4.75" fill="#111111"/>
<rect x="553.77" y="833.92" width="4.75" height="4.75" fill="#111111"/>
<rect x="557.77" y="836.80" width="4.75" height="4.75" fill="#111111"/>
<rect x="555.38" y="839.46" width="4.75" height="4.75" fill="#111111"/>
<rect x="555.38" y="850.98" width="4.75" height="4.75" fill="#111111"/>
<rect x="577.40" y="845.38" width="8.80" height="51.42" fill="#d3d3d3" stroke="#4557b3" stroke-width="1.3"/>
<rect x="591.95" y="855.13" width="8.80" height="41.67" fill="#ffffff" stroke="#c9974b" stroke-width="1.3"/>
<rect x="606.20" y="859.12" width="8.80" height="37.68" fill="#ffffff" stroke="#e8383d" stroke-width="1.3"/>
<rect x="620.90" y="856.02" width="8.80" height="40.78" fill="#ffffff" stroke="#111111" stroke-width="1.3"/>
<line x1="581.80" y1="821.44" x2="581.80" y2="872.42" stroke="#3346a8" stroke-width="1.3"/>
<line x1="579.00" y1="821.44" x2="584.60" y2="821.44" stroke="#3346a8" stroke-width="1.3"/>
<line x1="579.00" y1="872.42" x2="584.60" y2="872.42" stroke="#3346a8" stroke-width="1.3"/>
<circle cx="581.80" cy="819.45" r="2.61" fill="#3346a8"/>
<circle cx="580.20" cy="823.66" r="2.61" fill="#3346a8"/>
<circle cx="583.40" cy="829.20" r="2.61" fill="#3346a8"/>
<circle cx="579.40" cy="833.63" r="2.61" fill="#3346a8"/>
<circle cx="584.20" cy="836.96" r="2.61" fill="#3346a8"/>
<circle cx="581.80" cy="840.28" r="2.61" fill="#3346a8"/>
<circle cx="579.40" cy="844.71" r="2.61" fill="#3346a8"/>
<circle cx="584.20" cy="848.04" r="2.61" fill="#3346a8"/>
<circle cx="581.80" cy="853.58" r="2.61" fill="#3346a8"/>
<circle cx="581.80" cy="859.12" r="2.61" fill="#3346a8"/>
<circle cx="581.80" cy="870.20" r="2.61" fill="#3346a8"/>
<circle cx="581.80" cy="878.40" r="2.61" fill="#3346a8"/>
<line x1="596.35" y1="848.93" x2="596.35" y2="859.12" stroke="#c9974b" stroke-width="1.3"/>
<line x1="593.55" y1="848.93" x2="599.15" y2="848.93" stroke="#c9974b" stroke-width="1.3"/>
<line x1="593.55" y1="859.12" x2="599.15" y2="859.12" stroke="#c9974b" stroke-width="1.3"/>
<rect x="593.98" y="846.55" width="4.75" height="4.75" fill="#c9974b"/>
<rect x="592.38" y="851.21" width="4.75" height="4.75" fill="#c9974b"/>
<rect x="595.58" y="850.10" width="4.75" height="4.75" fill="#c9974b"/>
<line x1="610.60" y1="850.26" x2="610.60" y2="870.20" stroke="#e8383d" stroke-width="1.3"/>
<line x1="607.80" y1="850.26" x2="613.40" y2="850.26" stroke="#e8383d" stroke-width="1.3"/>
<line x1="607.80" y1="870.20" x2="613.40" y2="870.20" stroke="#e8383d" stroke-width="1.3"/>
<rect x="608.23" y="845.00" width="4.75" height="4.75" fill="#e8383d"/>
<rect x="608.23" y="854.53" width="4.75" height="4.75" fill="#e8383d"/>
<rect x="608.23" y="861.18" width="4.75" height="4.75" fill="#e8383d"/>
<rect x="608.23" y="866.72" width="4.75" height="4.75" fill="#e8383d"/>
<line x1="625.30" y1="840.06" x2="625.30" y2="872.42" stroke="#111111" stroke-width="1.3"/>
<line x1="622.50" y1="840.06" x2="628.10" y2="840.06" stroke="#111111" stroke-width="1.3"/>
<line x1="622.50" y1="872.42" x2="628.10" y2="872.42" stroke="#111111" stroke-width="1.3"/>
<rect x="622.93" y="830.59" width="4.75" height="4.75" fill="#111111"/>
<rect x="620.53" y="845.66" width="4.75" height="4.75" fill="#111111"/>
<rect x="625.33" y="848.99" width="4.75" height="4.75" fill="#111111"/>
<rect x="622.93" y="854.53" width="4.75" height="4.75" fill="#111111"/>
<rect x="622.93" y="861.18" width="4.75" height="4.75" fill="#111111"/>
<rect x="622.93" y="876.03" width="4.75" height="4.75" fill="#111111"/>
<rect x="644.75" y="848.48" width="8.80" height="48.32" fill="#d3d3d3" stroke="#4557b3" stroke-width="1.3"/>
<rect x="659.30" y="849.15" width="8.80" height="47.65" fill="#ffffff" stroke="#c9974b" stroke-width="1.3"/>
<rect x="673.55" y="864.88" width="8.80" height="31.92" fill="#ffffff" stroke="#e8383d" stroke-width="1.3"/>
<rect x="688.25" y="850.03" width="8.80" height="46.77" fill="#ffffff" stroke="#111111" stroke-width="1.3"/>
<line x1="649.15" y1="817.67" x2="649.15" y2="877.96" stroke="#3346a8" stroke-width="1.3"/>
<line x1="646.35" y1="817.67" x2="651.95" y2="817.67" stroke="#3346a8" stroke-width="1.3"/>
<line x1="646.35" y1="877.96" x2="651.95" y2="877.96" stroke="#3346a8" stroke-width="1.3"/>
<circle cx="649.15" cy="795.51" r="2.61" fill="#3346a8"/>
<circle cx="649.15" cy="831.19" r="2.61" fill="#3346a8"/>
<circle cx="649.15" cy="846.27" r="2.61" fill="#3346a8"/>
<circle cx="647.55" cy="867.99" r="2.61" fill="#3346a8"/>
<circle cx="650.75" cy="870.20" r="2.61" fill="#3346a8"/>
<circle cx="649.15" cy="871.31" r="2.61" fill="#3346a8"/>
<line x1="663.70" y1="827.87" x2="663.70" y2="867.99" stroke="#c9974b" stroke-width="1.3"/>
<line x1="660.90" y1="827.87" x2="666.50" y2="827.87" stroke="#c9974b" stroke-width="1.3"/>
<line x1="660.90" y1="867.99" x2="666.50" y2="867.99" stroke="#c9974b" stroke-width="1.3"/>
<rect x="661.32" y="817.29" width="4.75" height="4.75" fill="#c9974b"/>
<rect x="661.32" y="845.00" width="4.75" height="4.75" fill="#c9974b"/>
<rect x="658.92" y="858.74" width="4.75" height="4.75" fill="#c9974b"/>
<rect x="663.72" y="858.96" width="4.75" height="4.75" fill="#c9974b"/>
<line x1="677.95" y1="860.23" x2="677.95" y2="870.20" stroke="#e8383d" stroke-width="1.3"/>
<line x1="675.15" y1="860.23" x2="680.75" y2="860.23" stroke="#e8383d" stroke-width="1.3"/>
<line x1="675.15" y1="870.20" x2="680.75" y2="870.20" stroke="#e8383d" stroke-width="1.3"/>
<rect x="673.17" y="862.51" width="4.75" height="4.75" fill="#e8383d"/>
<rect x="677.97" y="864.50" width="4.75" height="4.75" fill="#e8383d"/>
<rect x="673.97" y="869.60" width="4.75" height="4.75" fill="#e8383d"/>
<rect x="677.17" y="866.50" width="4.75" height="4.75" fill="#e8383d"/>
<line x1="692.65" y1="839.17" x2="692.65" y2="861.34" stroke="#111111" stroke-width="1.3"/>
<line x1="689.85" y1="839.17" x2="695.45" y2="839.17" stroke="#111111" stroke-width="1.3"/>
<line x1="689.85" y1="861.34" x2="695.45" y2="861.34" stroke="#111111" stroke-width="1.3"/>
<rect x="690.27" y="828.82" width="4.75" height="4.75" fill="#111111"/>
<rect x="690.27" y="835.69" width="4.75" height="4.75" fill="#111111"/>
<rect x="690.27" y="843.89" width="4.75" height="4.75" fill="#111111"/>
<rect x="687.88" y="851.21" width="4.75" height="4.75" fill="#111111"/>
<rect x="692.67" y="852.31" width="4.75" height="4.75" fill="#111111"/>
<rect x="687.88" y="858.96" width="4.75" height="4.75" fill="#111111"/>
<rect x="692.67" y="858.96" width="4.75" height="4.75" fill="#111111"/>
<rect x="712.05" y="860.01" width="8.80" height="36.79" fill="#d3d3d3" stroke="#4557b3" stroke-width="1.3"/>
<rect x="726.60" y="853.36" width="8.80" height="43.44" fill="#ffffff" stroke="#c9974b" stroke-width="1.3"/>
<rect x="740.85" y="845.16" width="8.80" height="51.64" fill="#ffffff" stroke="#e8383d" stroke-width="1.3"/>
<rect x="755.55" y="842.28" width="8.80" height="54.52" fill="#ffffff" stroke="#111111" stroke-width="1.3"/>
<line x1="716.45" y1="839.17" x2="716.45" y2="881.29" stroke="#3346a8" stroke-width="1.3"/>
<line x1="713.65" y1="839.17" x2="719.25" y2="839.17" stroke="#3346a8" stroke-width="1.3"/>
<line x1="713.65" y1="881.29" x2="719.25" y2="881.29" stroke="#3346a8" stroke-width="1.3"/>
<circle cx="716.45" cy="834.30" r="2.61" fill="#3346a8"/>
<circle cx="716.45" cy="840.28" r="2.61" fill="#3346a8"/>
<circle cx="716.45" cy="850.26" r="2.61" fill="#3346a8"/>
<circle cx="713.25" cy="858.01" r="2.61" fill="#3346a8"/>
<circle cx="719.65" cy="861.34" r="2.61" fill="#3346a8"/>
<circle cx="716.45" cy="866.88" r="2.61" fill="#3346a8"/>
<circle cx="716.45" cy="872.42" r="2.61" fill="#3346a8"/>
<circle cx="716.45" cy="892.37" r="2.61" fill="#3346a8"/>
<line x1="731.00" y1="841.39" x2="731.00" y2="865.77" stroke="#c9974b" stroke-width="1.3"/>
<line x1="728.20" y1="841.39" x2="733.80" y2="841.39" stroke="#c9974b" stroke-width="1.3"/>
<line x1="728.20" y1="865.77" x2="733.80" y2="865.77" stroke="#c9974b" stroke-width="1.3"/>
<rect x="727.02" y="840.79" width="4.75" height="4.75" fill="#c9974b"/>
<rect x="730.23" y="838.79" width="4.75" height="4.75" fill="#c9974b"/>
<rect x="727.02" y="862.51" width="4.75" height="4.75" fill="#c9974b"/>
<rect x="730.23" y="861.62" width="4.75" height="4.75" fill="#c9974b"/>
<line x1="745.25" y1="829.42" x2="745.25" y2="861.34" stroke="#e8383d" stroke-width="1.3"/>
<line x1="742.45" y1="829.42" x2="748.05" y2="829.42" stroke="#e8383d" stroke-width="1.3"/>
<line x1="742.45" y1="861.34" x2="748.05" y2="861.34" stroke="#e8383d" stroke-width="1.3"/>
<rect x="742.88" y="827.05" width="4.75" height="4.75" fill="#e8383d"/>
<rect x="741.27" y="839.01" width="4.75" height="4.75" fill="#e8383d"/>
<rect x="744.48" y="838.35" width="4.75" height="4.75" fill="#e8383d"/>
<rect x="742.88" y="861.18" width="4.75" height="4.75" fill="#e8383d"/>
<line x1="759.95" y1="818.34" x2="759.95" y2="867.99" stroke="#111111" stroke-width="1.3"/>
<line x1="757.15" y1="818.34" x2="762.75" y2="818.34" stroke="#111111" stroke-width="1.3"/>
<line x1="757.15" y1="867.99" x2="762.75" y2="867.99" stroke="#111111" stroke-width="1.3"/>
<rect x="757.58" y="801.56" width="4.75" height="4.75" fill="#111111"/>
<rect x="755.98" y="824.39" width="4.75" height="4.75" fill="#111111"/>
<rect x="759.18" y="824.39" width="4.75" height="4.75" fill="#111111"/>
<rect x="755.18" y="855.64" width="4.75" height="4.75" fill="#111111"/>
<rect x="759.98" y="856.75" width="4.75" height="4.75" fill="#111111"/>
<rect x="757.58" y="866.06" width="4.75" height="4.75" fill="#111111"/>
<rect x="779.35" y="773.79" width="8.80" height="123.01" fill="#d3d3d3" stroke="#4557b3" stroke-width="1.3"/>
<rect x="793.90" y="792.19" width="8.80" height="104.61" fill="#ffffff" stroke="#c9974b" stroke-width="1.3"/>
<rect x="808.15" y="829.86" width="8.80" height="66.94" fill="#ffffff" stroke="#e8383d" stroke-width="1.3"/>
<rect x="822.85" y="748.74" width="8.80" height="148.06" fill="#ffffff" stroke="#111111" stroke-width="1.3"/>
<line x1="783.75" y1="726.58" x2="783.75" y2="821.00" stroke="#3346a8" stroke-width="1.3"/>
<line x1="780.95" y1="726.58" x2="786.55" y2="726.58" stroke="#3346a8" stroke-width="1.3"/>
<line x1="780.95" y1="821.00" x2="786.55" y2="821.00" stroke="#3346a8" stroke-width="1.3"/>
<circle cx="781.35" cy="710.18" r="2.61" fill="#3346a8"/>
<circle cx="786.15" cy="710.18" r="2.61" fill="#3346a8"/>
<circle cx="782.95" cy="721.26" r="2.61" fill="#3346a8"/>
<circle cx="786.15" cy="720.60" r="2.61" fill="#3346a8"/>
<circle cx="783.75" cy="734.34" r="2.61" fill="#3346a8"/>
<circle cx="783.75" cy="745.86" r="2.61" fill="#3346a8"/>
<circle cx="783.75" cy="756.50" r="2.61" fill="#3346a8"/>
<circle cx="783.75" cy="763.15" r="2.61" fill="#3346a8"/>
<circle cx="782.15" cy="779.33" r="2.61" fill="#3346a8"/>
<circle cx="785.35" cy="782.66" r="2.61" fill="#3346a8"/>
<circle cx="783.75" cy="790.41" r="2.61" fill="#3346a8"/>
<circle cx="781.35" cy="836.07" r="2.61" fill="#3346a8"/>
<circle cx="786.15" cy="836.07" r="2.61" fill="#3346a8"/>
<circle cx="781.35" cy="851.14" r="2.61" fill="#3346a8"/>
<circle cx="786.15" cy="851.14" r="2.61" fill="#3346a8"/>
<line x1="798.30" y1="752.73" x2="798.30" y2="830.75" stroke="#c9974b" stroke-width="1.3"/>
<line x1="795.50" y1="752.73" x2="801.10" y2="752.73" stroke="#c9974b" stroke-width="1.3"/>
<line x1="795.50" y1="830.75" x2="801.10" y2="830.75" stroke="#c9974b" stroke-width="1.3"/>
<rect x="794.32" y="755.46" width="4.75" height="4.75" fill="#c9974b"/>
<rect x="797.52" y="755.46" width="4.75" height="4.75" fill="#c9974b"/>
<rect x="794.32" y="822.84" width="4.75" height="4.75" fill="#c9974b"/>
<rect x="797.52" y="823.50" width="4.75" height="4.75" fill="#c9974b"/>
<line x1="812.55" y1="794.85" x2="812.55" y2="859.56" stroke="#e8383d" stroke-width="1.3"/>
<line x1="809.75" y1="794.85" x2="815.35" y2="794.85" stroke="#e8383d" stroke-width="1.3"/>
<line x1="809.75" y1="859.56" x2="815.35" y2="859.56" stroke="#e8383d" stroke-width="1.3"/>
<rect x="808.57" y="794.69" width="4.75" height="4.75" fill="#e8383d"/>
<rect x="811.77" y="795.80" width="4.75" height="4.75" fill="#e8383d"/>
<rect x="807.77" y="849.43" width="4.75" height="4.75" fill="#e8383d"/>
<rect x="812.57" y="849.43" width="4.75" height="4.75" fill="#e8383d"/>
<line x1="827.25" y1="723.92" x2="827.25" y2="772.68" stroke="#111111" stroke-width="1.3"/>
<line x1="824.45" y1="723.92" x2="830.05" y2="723.92" stroke="#111111" stroke-width="1.3"/>
<line x1="824.45" y1="772.68" x2="830.05" y2="772.68" stroke="#111111" stroke-width="1.3"/>
<rect x="824.88" y="715.56" width="4.75" height="4.75" fill="#111111"/>
<rect x="824.88" y="723.76" width="4.75" height="4.75" fill="#111111"/>
<rect x="824.88" y="734.84" width="4.75" height="4.75" fill="#111111"/>
<rect x="824.88" y="741.49" width="4.75" height="4.75" fill="#111111"/>
<rect x="824.88" y="752.58" width="4.75" height="4.75" fill="#111111"/>
<rect x="824.88" y="768.53" width="4.75" height="4.75" fill="#111111"/>
<rect x="824.88" y="782.94" width="4.75" height="4.75" fill="#111111"/>
<text x="513.70" y="674.80" font-size="13.5"><tspan font-style="italic">P</tspan> = 0.8</text>
<line x1="513.70" y1="679.40" x2="557.60" y2="679.40" stroke="#222" stroke-width="1.3"/>
<text x="507.70" y="695.50" font-size="13.5"><tspan font-style="italic">P</tspan> = 0.8</text>
<line x1="513.70" y1="699.70" x2="543.50" y2="699.70" stroke="#222" stroke-width="1.3"/>
<text x="506.80" y="718.50" font-size="13.5"><tspan font-style="italic">P</tspan> = 0.4</text>
<line x1="513.70" y1="722.60" x2="528.80" y2="722.60" stroke="#222" stroke-width="1.3"/>
<text x="582.00" y="754.30" font-size="13.5"><tspan font-style="italic">P</tspan> = 0.5</text>
<line x1="582.00" y1="758.40" x2="625.70" y2="758.40" stroke="#222" stroke-width="1.3"/>
<text x="574.90" y="774.60" font-size="13.5"><tspan font-style="italic">P</tspan> = 0.1</text>
<line x1="582.00" y1="778.70" x2="611.60" y2="778.70" stroke="#222" stroke-width="1.3"/>
<text x="568.00" y="797.20" font-size="13.5"><tspan font-style="italic">P</tspan> = 0.6</text>
<line x1="582.20" y1="802.00" x2="596.70" y2="802.00" stroke="#222" stroke-width="1.3"/>
<text x="648.20" y="734.80" font-size="13.5"><tspan font-style="italic">P</tspan> = 1.0</text>
<line x1="648.20" y1="739.50" x2="692.20" y2="739.50" stroke="#222" stroke-width="1.3"/>
<text x="641.40" y="755.40" font-size="13.5"><tspan font-style="italic">P</tspan> = 0.7</text>
<line x1="648.20" y1="760.30" x2="677.90" y2="760.30" stroke="#222" stroke-width="1.3"/>
<text x="638.60" y="778.70" font-size="13.5"><tspan font-style="italic">P</tspan> = 1.0</text>
<line x1="648.20" y1="783.40" x2="663.40" y2="783.40" stroke="#222" stroke-width="1.3"/>
<text x="714.70" y="762.30" font-size="13.5"><tspan font-style="italic">P</tspan> = 0.3</text>
<line x1="715.50" y1="766.90" x2="759.50" y2="766.90" stroke="#222" stroke-width="1.3"/>
<text x="708.70" y="782.30" font-size="13.5"><tspan font-style="italic">P</tspan> = 0.4</text>
<line x1="715.50" y1="787.00" x2="745.20" y2="787.00" stroke="#222" stroke-width="1.3"/>
<text x="701.00" y="804.80" font-size="13.5"><tspan font-style="italic">P</tspan> = 0.6</text>
<line x1="715.50" y1="810.30" x2="730.70" y2="810.30" stroke="#222" stroke-width="1.3"/>
<text x="783.40" y="654.30" font-size="13.5"><tspan font-style="italic">P</tspan> = 0.5</text>
<line x1="784.20" y1="659.20" x2="828.20" y2="659.20" stroke="#222" stroke-width="1.3"/>
<text x="770.00" y="674.30" font-size="13.5"><tspan font-style="italic">P</tspan> = 0.007</text>
<line x1="784.20" y1="679.80" x2="813.90" y2="679.80" stroke="#222" stroke-width="1.3"/>
<text x="770.80" y="697.70" font-size="13.5"><tspan font-style="italic">P</tspan> = 0.5</text>
<line x1="784.20" y1="702.60" x2="799.30" y2="702.60" stroke="#222" stroke-width="1.3"/>
<rect x="509.10" y="951.00" width="21.40" height="10.60" fill="#d3d3d3" stroke="#4557b3" stroke-width="1.2"/>
<text x="539.20" y="960.90" font-size="13.5" textLength="41.10" lengthAdjust="spacingAndGlyphs">Cortex</text>
<rect x="509.10" y="969.50" width="21.40" height="10.60" fill="#fff" stroke="#c9974b" stroke-width="1.2"/>
<text x="539.20" y="979.60" font-size="13.5" textLength="107.00" lengthAdjust="spacingAndGlyphs">Tumour (HF2303)</text>
<rect x="662.40" y="951.00" width="22.10" height="10.60" fill="#fff" stroke="#e8383d" stroke-width="1.2"/>
<text x="691.80" y="960.90" font-size="13.5" textLength="106.60" lengthAdjust="spacingAndGlyphs">Tumour (GBM12)</text>
<rect x="662.40" y="969.50" width="22.10" height="10.60" fill="#fff" stroke="#111111" stroke-width="1.2"/>
<text x="691.80" y="979.60" font-size="13.5" textLength="106.60" lengthAdjust="spacingAndGlyphs">Tumour (GBM38)</text>
<text x="875.30" y="634.20" font-size="17.5" font-weight="bold" fill="#000" stroke="#000" stroke-width="0.6">g</text>
<rect x="875.10" y="664.60" width="142.80" height="224.70" fill="#eff1f1"/>
<defs>
<pattern id="hegrid" x="0" y="0" width="2.6" height="2.6" patternUnits="userSpaceOnUse">
<rect width="2.6" height="2.6" fill="#d85a98"/><rect width="2.6" height="0.75" fill="#f0b2d2" opacity="0.65"/><rect width="0.75" height="2.6" fill="#f0b2d2" opacity="0.65"/>
</pattern>
<pattern id="hegrid2" x="0" y="0" width="3" height="3" patternUnits="userSpaceOnUse">
<rect width="3" height="3" fill="#b24a8e"/><rect width="3" height="0.9" fill="#d48cbc" opacity="0.7"/><rect width="0.9" height="3" fill="#d48cbc" opacity="0.7"/>
</pattern>
<filter id="viridis" x="0" y="0" width="100%" height="100%" color-interpolation-filters="sRGB">
<feTurbulence type="fractalNoise" baseFrequency="0.6" numOctaves="3" seed="7" result="n"/>
<feColorMatrix in="n" type="matrix" values="1 0 0 0 0  1 0 0 0 0  1 0 0 0 0  0 0 0 0 1" result="g"/>
<feComponentTransfer in="g" result="s"><feFuncR type="linear" slope="2.2" intercept="-0.6"/><feFuncG type="linear" slope="2.2" intercept="-0.6"/><feFuncB type="linear" slope="2.2" intercept="-0.6"/></feComponentTransfer>
<feComponentTransfer in="s" result="c">
<feFuncR type="table" tableValues="0.235 0.235 0.235 0.235 0.235 0.259 0.259 0.259 0.251 0.235 0.243 0.329 0.627 0.769 0.855 0.855"/><feFuncG type="table" tableValues="0.094 0.094 0.094 0.094 0.094 0.157 0.157 0.243 0.329 0.416 0.494 0.565 0.635 0.635 0.698 0.698"/><feFuncB type="table" tableValues="0.329 0.329 0.329 0.329 0.329 0.400 0.400 0.463 0.486 0.494 0.478 0.424 0.259 0.196 0.173 0.173"/>
</feComponentTransfer>
<feGaussianBlur in="c" stdDeviation="0.65" result="cb"/>
<feComposite in="cb" in2="SourceGraphic" operator="in"/>
</filter>
<linearGradient id="virgrad" x1="0" x2="1" y1="0" y2="0">
<stop offset="0.00" stop-color="rgb(68,1,84)"/>
<stop offset="0.10" stop-color="rgb(72,35,116)"/>
<stop offset="0.20" stop-color="rgb(64,67,135)"/>
<stop offset="0.30" stop-color="rgb(52,94,141)"/>
<stop offset="0.40" stop-color="rgb(41,120,142)"/>
<stop offset="0.50" stop-color="rgb(32,144,140)"/>
<stop offset="0.60" stop-color="rgb(34,167,132)"/>
<stop offset="0.70" stop-color="rgb(68,190,112)"/>
<stop offset="0.80" stop-color="rgb(121,209,81)"/>
<stop offset="0.90" stop-color="rgb(189,222,38)"/>
<stop offset="1.00" stop-color="rgb(253,231,37)"/>
</linearGradient></defs>
<path d="M947.06,677.22 C953.51,677.01 959.58,679.35 964.82,680.82 C970.07,682.30 974.51,682.69 978.51,686.05 C982.52,689.41 985.82,695.79 988.88,700.97 C991.93,706.14 995.06,711.29 996.83,717.12 C998.60,722.94 999.30,729.65 999.51,735.92 C999.73,742.19 998.12,749.81 998.12,754.73 C998.12,759.66 998.63,760.99 999.51,765.47 C1000.39,769.95 1002.30,775.33 1003.40,781.62 C1004.49,787.91 1005.86,796.46 1006.08,803.18 C1006.30,809.91 1005.79,815.71 1004.69,822.00 C1003.60,828.28 1002.13,834.61 999.51,840.90 C996.89,847.19 993.35,854.79 988.97,859.71 C984.59,864.63 979.78,867.97 973.24,870.44 C966.71,872.91 957.59,874.07 949.75,874.53 C941.90,874.99 934.02,874.77 926.16,873.20 C918.30,871.63 909.12,868.28 902.57,865.12 C896.02,861.97 889.25,859.24 886.85,854.29 C884.44,849.35 887.71,843.10 888.14,835.48 C888.57,827.87 889.44,817.58 889.44,808.60 C889.44,799.62 887.71,788.81 888.14,781.62 C888.57,774.43 890.72,770.85 892.03,765.47 C893.34,760.09 895.13,754.70 896.00,749.32 C896.88,743.94 896.21,739.44 897.30,733.17 C898.39,726.90 899.95,718.41 902.57,711.70 C905.19,704.99 909.09,697.83 913.02,692.89 C916.96,687.95 920.49,684.67 926.16,682.06 C931.83,679.45 940.62,677.42 947.06,677.22 Z" fill="url(#hegrid)"/>
<clipPath id="heclip"><path d="M947.06,677.22 C953.51,677.01 959.58,679.35 964.82,680.82 C970.07,682.30 974.51,682.69 978.51,686.05 C982.52,689.41 985.82,695.79 988.88,700.97 C991.93,706.14 995.06,711.29 996.83,717.12 C998.60,722.94 999.30,729.65 999.51,735.92 C999.73,742.19 998.12,749.81 998.12,754.73 C998.12,759.66 998.63,760.99 999.51,765.47 C1000.39,769.95 1002.30,775.33 1003.40,781.62 C1004.49,787.91 1005.86,796.46 1006.08,803.18 C1006.30,809.91 1005.79,815.71 1004.69,822.00 C1003.60,828.28 1002.13,834.61 999.51,840.90 C996.89,847.19 993.35,854.79 988.97,859.71 C984.59,864.63 979.78,867.97 973.24,870.44 C966.71,872.91 957.59,874.07 949.75,874.53 C941.90,874.99 934.02,874.77 926.16,873.20 C918.30,871.63 909.12,868.28 902.57,865.12 C896.02,861.97 889.25,859.24 886.85,854.29 C884.44,849.35 887.71,843.10 888.14,835.48 C888.57,827.87 889.44,817.58 889.44,808.60 C889.44,799.62 887.71,788.81 888.14,781.62 C888.57,774.43 890.72,770.85 892.03,765.47 C893.34,760.09 895.13,754.70 896.00,749.32 C896.88,743.94 896.21,739.44 897.30,733.17 C898.39,726.90 899.95,718.41 902.57,711.70 C905.19,704.99 909.09,697.83 913.02,692.89 C916.96,687.95 920.49,684.67 926.16,682.06 C931.83,679.45 940.62,677.42 947.06,677.22 Z"/></clipPath>
<g clip-path="url(#heclip)"><g filter="url(#bl2)">
<ellipse cx="923.50" cy="727.00" rx="24.00" ry="38.00" fill="#f6d2e4" opacity="0.4"/>
<ellipse cx="940.00" cy="792.00" rx="8.00" ry="32.00" fill="#f6d2e4" opacity="0.3"/>
<ellipse cx="889.00" cy="800.00" rx="5.00" ry="60.00" fill="#c83a86" opacity="0.5"/>
</g></g>
<path d="M973.70,688.90 C974.37,688.67 976.60,693.93 977.70,696.80 C978.80,699.67 978.77,703.67 980.30,706.10 C981.83,708.53 984.03,709.63 986.90,711.40 C989.77,713.17 995.30,714.05 997.50,716.70 C999.70,719.35 1000.10,724.22 1000.10,727.30 C1000.10,730.38 998.15,732.12 997.50,735.20 C996.85,738.28 996.20,742.72 996.20,745.80 C996.20,748.88 998.17,751.95 997.50,753.70 C996.83,755.45 993.30,754.53 992.20,756.30 C991.10,758.07 992.22,762.53 990.90,764.30 C989.58,766.07 986.73,766.02 984.30,766.90 C981.87,767.78 979.38,768.93 976.30,769.60 C973.22,770.27 968.43,771.35 965.80,770.90 C963.17,770.45 962.05,768.45 960.50,766.90 C958.95,765.35 957.38,764.23 956.50,761.60 C955.62,758.97 955.63,754.62 955.20,751.10 C954.77,747.58 954.35,744.47 953.90,740.50 C953.45,736.53 952.28,730.83 952.50,727.30 C952.72,723.77 953.87,721.28 955.20,719.30 C956.53,717.32 958.73,716.28 960.50,715.40 C962.27,714.52 963.82,715.55 965.80,714.00 C967.78,712.45 971.08,708.73 972.40,706.10 C973.72,703.47 973.48,701.07 973.70,698.20 C973.92,695.33 973.03,689.13 973.70,688.90 Z" fill="url(#hegrid2)"/>
<path d="M973.70,688.90 C974.37,688.67 976.60,693.93 977.70,696.80 C978.80,699.67 978.77,703.67 980.30,706.10 C981.83,708.53 984.03,709.63 986.90,711.40 C989.77,713.17 995.30,714.05 997.50,716.70 C999.70,719.35 1000.10,724.22 1000.10,727.30 C1000.10,730.38 998.15,732.12 997.50,735.20 C996.85,738.28 996.20,742.72 996.20,745.80 C996.20,748.88 998.17,751.95 997.50,753.70 C996.83,755.45 993.30,754.53 992.20,756.30 C991.10,758.07 992.22,762.53 990.90,764.30 C989.58,766.07 986.73,766.02 984.30,766.90 C981.87,767.78 979.38,768.93 976.30,769.60 C973.22,770.27 968.43,771.35 965.80,770.90 C963.17,770.45 962.05,768.45 960.50,766.90 C958.95,765.35 957.38,764.23 956.50,761.60 C955.62,758.97 955.63,754.62 955.20,751.10 C954.77,747.58 954.35,744.47 953.90,740.50 C953.45,736.53 952.28,730.83 952.50,727.30 C952.72,723.77 953.87,721.28 955.20,719.30 C956.53,717.32 958.73,716.28 960.50,715.40 C962.27,714.52 963.82,715.55 965.80,714.00 C967.78,712.45 971.08,708.73 972.40,706.10 C973.72,703.47 973.48,701.07 973.70,698.20 C973.92,695.33 973.03,689.13 973.70,688.90 Z" fill="none" stroke="#e6e21e" stroke-width="2.4"/>
<path d="M990,766 C994,768 998,770 1001,774 C997,776 992,775 990,771 Z" fill="none" stroke="#e6e21e" stroke-width="1.6"/>
<ellipse cx="893.00" cy="772.20" rx="2.60" ry="1.80" fill="#e6e21e"/>
<ellipse cx="939.30" cy="759.00" rx="2.00" ry="1.60" fill="#e6e21e"/>
<ellipse cx="946.00" cy="752.40" rx="1.80" ry="1.50" fill="#e6e21e"/>
<ellipse cx="897.50" cy="829.80" rx="6.00" ry="4.20" fill="#ffffff" stroke="#3a55b8" stroke-width="2.2"/>
<ellipse cx="929.50" cy="828.80" rx="18.50" ry="4.80" fill="#ffffff" stroke="#3a55b8" stroke-width="2.2"/>
<ellipse cx="955.50" cy="833.20" rx="9.50" ry="3.80" fill="#ffffff" stroke="#3a55b8" stroke-width="2.2"/>
<ellipse cx="924.50" cy="840.60" rx="5.50" ry="2.00" fill="#ffffff" stroke="#3a55b8" stroke-width="2.2"/>
<path d="M933.50,797.80 L940.50,790.00 L947.50,797.80 Z" fill="#ffffff" stroke="#3a55b8" stroke-width="2.2"/>
<ellipse cx="957.80" cy="706.10" rx="3.20" ry="1.80" fill="#ffffff" stroke="#3a55b8" stroke-width="1.6"/>
<ellipse cx="967.10" cy="704.30" rx="3.80" ry="2.00" fill="#ffffff" stroke="#3a55b8" stroke-width="1.6"/>
<ellipse cx="947.30" cy="756.30" rx="2.20" ry="2.00" fill="#ffffff" stroke="#3a55b8" stroke-width="1.4"/>
<circle cx="914.20" cy="719.30" r="1.70" fill="#3a55b8"/>
<circle cx="920.80" cy="722.00" r="1.50" fill="#3a55b8"/>
<circle cx="927.40" cy="719.30" r="1.80" fill="#3a55b8"/>
<circle cx="939.30" cy="719.30" r="1.40" fill="#3a55b8"/>
<circle cx="942.00" cy="714.00" r="1.40" fill="#3a55b8"/>
<circle cx="947.30" cy="711.40" r="1.50" fill="#3a55b8"/>
<circle cx="936.70" cy="757.70" r="1.60" fill="#3a55b8"/>
<circle cx="908.90" cy="780.10" r="1.50" fill="#3a55b8"/>
<circle cx="952.50" cy="780.10" r="1.70" fill="#3a55b8"/>
<circle cx="927.40" cy="796.00" r="1.70" fill="#3a55b8"/>
<circle cx="959.20" cy="807.90" r="1.80" fill="#3a55b8"/>
<circle cx="955.20" cy="822.40" r="1.60" fill="#3a55b8"/>
<circle cx="956.50" cy="841.00" r="1.60" fill="#3a55b8"/>
<circle cx="916.80" cy="842.30" r="1.60" fill="#3a55b8"/>
<circle cx="973.70" cy="811.90" r="1.20" fill="#3a55b8"/>
<circle cx="983.00" cy="837.00" r="1.20" fill="#3a55b8"/>
<circle cx="998.80" cy="813.20" r="1.40" fill="#3a55b8"/>
<circle cx="996.20" cy="821.10" r="1.40" fill="#3a55b8"/>
<circle cx="949.90" cy="877.50" r="1.80" fill="#3a55b8"/>
<circle cx="903.00" cy="830.00" r="1.60" fill="#3a55b8"/>
<circle cx="915.00" cy="816.00" r="1.30" fill="#3a55b8"/>
<path d="M947.06,677.22 C953.51,677.01 959.58,679.35 964.82,680.82 C970.07,682.30 974.51,682.69 978.51,686.05 C982.52,689.41 985.82,695.79 988.88,700.97 C991.93,706.14 995.06,711.29 996.83,717.12 C998.60,722.94 999.30,729.65 999.51,735.92 C999.73,742.19 998.12,749.81 998.12,754.73 C998.12,759.66 998.63,760.99 999.51,765.47 C1000.39,769.95 1002.30,775.33 1003.40,781.62 C1004.49,787.91 1005.86,796.46 1006.08,803.18 C1006.30,809.91 1005.79,815.71 1004.69,822.00 C1003.60,828.28 1002.13,834.61 999.51,840.90 C996.89,847.19 993.35,854.79 988.97,859.71 C984.59,864.63 979.78,867.97 973.24,870.44 C966.71,872.91 957.59,874.07 949.75,874.53 C941.90,874.99 934.02,874.77 926.16,873.20 C918.30,871.63 909.12,868.28 902.57,865.12 C896.02,861.97 889.25,859.24 886.85,854.29 C884.44,849.35 887.71,843.10 888.14,835.48 C888.57,827.87 889.44,817.58 889.44,808.60 C889.44,799.62 887.71,788.81 888.14,781.62 C888.57,774.43 890.72,770.85 892.03,765.47 C893.34,760.09 895.13,754.70 896.00,749.32 C896.88,743.94 896.21,739.44 897.30,733.17 C898.39,726.90 899.95,718.41 902.57,711.70 C905.19,704.99 909.09,697.83 913.02,692.89 C916.96,687.95 920.49,684.67 926.16,682.06 C931.83,679.45 940.62,677.42 947.06,677.22 Z" fill="none" stroke="#3a55b8" stroke-width="2.4"/>
<path d="M947.80,671.70 C954.77,671.48 961.33,673.95 967.00,675.50 C972.67,677.05 977.47,677.47 981.80,681.00 C986.13,684.53 989.70,691.25 993.00,696.70 C996.30,702.15 999.68,707.57 1001.60,713.70 C1003.52,719.83 1004.27,726.90 1004.50,733.50 C1004.73,740.10 1003.00,748.12 1003.00,753.30 C1003.00,758.48 1003.55,759.88 1004.50,764.60 C1005.45,769.32 1007.52,774.98 1008.70,781.60 C1009.88,788.22 1011.37,797.22 1011.60,804.30 C1011.83,811.38 1011.28,817.48 1010.10,824.10 C1008.92,830.72 1007.33,837.38 1004.50,844.00 C1001.67,850.62 997.83,858.62 993.10,863.80 C988.37,868.98 983.17,872.50 976.10,875.10 C969.03,877.70 959.18,878.92 950.70,879.40 C942.22,879.88 933.70,879.65 925.20,878.00 C916.70,876.35 906.78,872.82 899.70,869.50 C892.62,866.18 885.30,863.30 882.70,858.10 C880.10,852.90 883.63,846.32 884.10,838.30 C884.57,830.28 885.50,819.45 885.50,810.00 C885.50,800.55 883.63,789.17 884.10,781.60 C884.57,774.03 886.88,770.27 888.30,764.60 C889.72,758.93 891.65,753.27 892.60,747.60 C893.55,741.93 892.82,737.20 894.00,730.60 C895.18,724.00 896.87,715.07 899.70,708.00 C902.53,700.93 906.75,693.40 911.00,688.20 C915.25,683.00 919.07,679.55 925.20,676.80 C931.33,674.05 940.83,671.92 947.80,671.70 Z" fill="none" stroke="#e82424" stroke-width="2.4"/>
<circle cx="877.00" cy="755.00" r="0.90" fill="#c89aa8"/>
<circle cx="879.00" cy="760.00" r="0.90" fill="#c89aa8"/>
<circle cx="874.00" cy="752.00" r="0.90" fill="#c89aa8"/>
<circle cx="881.00" cy="765.00" r="0.90" fill="#c89aa8"/>
<circle cx="878.00" cy="770.00" r="0.90" fill="#c89aa8"/>
<line x1="986.90" y1="731.20" x2="1018.60" y2="699.50" stroke="#111" stroke-width="1.1"/>
<line x1="972.40" y1="851.50" x2="996.20" y2="891.20" stroke="#111" stroke-width="1.1"/>
<text x="1023.10" y="696.80" font-size="13.5" text-anchor="middle" textLength="31.60" lengthAdjust="spacingAndGlyphs">GBM</text>
<text x="999.50" y="905.20" font-size="13.5" text-anchor="middle" textLength="40.80" lengthAdjust="spacingAndGlyphs">Cortex</text>
<line x1="878.00" y1="903.40" x2="960.40" y2="903.40" stroke="#111" stroke-width="2.6"/>
<rect x="1047.40" y="665.20" width="142.20" height="224.90" fill="#000000"/>
<path d="M1118.20,668.50 C1124.30,668.10 1132.00,669.17 1137.70,671.00 C1143.40,672.83 1148.93,676.85 1152.40,679.50 C1155.87,682.15 1157.28,684.45 1158.50,686.90 C1159.72,689.35 1158.08,691.77 1159.70,694.20 C1161.32,696.63 1166.57,698.85 1168.20,701.50 C1169.83,704.15 1168.27,708.47 1169.50,710.10 C1170.73,711.73 1173.78,709.88 1175.60,711.30 C1177.42,712.72 1179.80,714.93 1180.40,718.60 C1181.00,722.27 1179.40,727.60 1179.20,733.30 C1179.00,739.00 1178.58,745.88 1179.20,752.80 C1179.82,759.72 1181.67,767.47 1182.90,774.80 C1184.13,782.13 1185.78,791.10 1186.60,796.80 C1187.42,802.50 1188.22,803.30 1187.80,809.00 C1187.38,814.70 1185.93,823.67 1184.10,831.00 C1182.27,838.33 1179.65,846.50 1176.80,853.00 C1173.95,859.50 1170.27,865.53 1167.00,870.00 C1163.73,874.47 1161.27,877.35 1157.20,879.80 C1153.13,882.25 1149.10,883.68 1142.60,884.70 C1136.10,885.72 1126.35,886.10 1118.20,885.90 C1110.05,885.70 1101.43,885.32 1093.70,883.50 C1085.97,881.68 1078.30,877.85 1071.80,875.00 C1065.30,872.15 1058.17,868.65 1054.70,866.40 C1051.23,864.15 1050.80,864.15 1051.00,861.50 C1051.20,858.85 1054.88,855.58 1055.90,850.50 C1056.92,845.42 1057.10,838.32 1057.10,831.00 C1057.10,823.68 1056.72,813.12 1055.90,806.60 C1055.08,800.08 1052.40,797.20 1052.20,791.90 C1052.00,786.60 1053.07,780.50 1054.70,774.80 C1056.33,769.10 1060.38,764.62 1062.00,757.70 C1063.62,750.78 1062.37,741.43 1064.40,733.30 C1066.43,725.17 1070.53,716.63 1074.20,708.90 C1077.87,701.17 1081.92,692.82 1086.40,686.90 C1090.88,680.98 1095.80,676.47 1101.10,673.40 C1106.40,670.33 1112.10,668.90 1118.20,668.50 Z" fill="#3c4a78" filter="url(#viridis)"/>
<path d="M1118.20,668.50 C1124.30,668.10 1132.00,669.17 1137.70,671.00 C1143.40,672.83 1148.93,676.85 1152.40,679.50 C1155.87,682.15 1157.28,684.45 1158.50,686.90 C1159.72,689.35 1158.08,691.77 1159.70,694.20 C1161.32,696.63 1166.57,698.85 1168.20,701.50 C1169.83,704.15 1168.27,708.47 1169.50,710.10 C1170.73,711.73 1173.78,709.88 1175.60,711.30 C1177.42,712.72 1179.80,714.93 1180.40,718.60 C1181.00,722.27 1179.40,727.60 1179.20,733.30 C1179.00,739.00 1178.58,745.88 1179.20,752.80 C1179.82,759.72 1181.67,767.47 1182.90,774.80 C1184.13,782.13 1185.78,791.10 1186.60,796.80 C1187.42,802.50 1188.22,803.30 1187.80,809.00 C1187.38,814.70 1185.93,823.67 1184.10,831.00 C1182.27,838.33 1179.65,846.50 1176.80,853.00 C1173.95,859.50 1170.27,865.53 1167.00,870.00 C1163.73,874.47 1161.27,877.35 1157.20,879.80 C1153.13,882.25 1149.10,883.68 1142.60,884.70 C1136.10,885.72 1126.35,886.10 1118.20,885.90 C1110.05,885.70 1101.43,885.32 1093.70,883.50 C1085.97,881.68 1078.30,877.85 1071.80,875.00 C1065.30,872.15 1058.17,868.65 1054.70,866.40 C1051.23,864.15 1050.80,864.15 1051.00,861.50 C1051.20,858.85 1054.88,855.58 1055.90,850.50 C1056.92,845.42 1057.10,838.32 1057.10,831.00 C1057.10,823.68 1056.72,813.12 1055.90,806.60 C1055.08,800.08 1052.40,797.20 1052.20,791.90 C1052.00,786.60 1053.07,780.50 1054.70,774.80 C1056.33,769.10 1060.38,764.62 1062.00,757.70 C1063.62,750.78 1062.37,741.43 1064.40,733.30 C1066.43,725.17 1070.53,716.63 1074.20,708.90 C1077.87,701.17 1081.92,692.82 1086.40,686.90 C1090.88,680.98 1095.80,676.47 1101.10,673.40 C1106.40,670.33 1112.10,668.90 1118.20,668.50 Z" fill="none" stroke="#d42a2a" stroke-width="0.9"/>
<rect x="1075.10" y="895.40" width="68.80" height="16.40" fill="url(#virgrad)"/>
<text x="1067.30" y="908.00" font-size="13.5" text-anchor="middle">0</text>
<text x="1159.00" y="908.00" font-size="13.5" text-anchor="middle" textLength="22.70" lengthAdjust="spacingAndGlyphs">100</text>
<text x="1109.20" y="927.60" font-size="13.5" text-anchor="middle" textLength="107.20" lengthAdjust="spacingAndGlyphs">Normalized mean</text>
<text x="1109.80" y="943.40" font-size="13.5" text-anchor="middle" textLength="93.30" lengthAdjust="spacingAndGlyphs">enrichment (%)</text>
</svg>
</body></html>
